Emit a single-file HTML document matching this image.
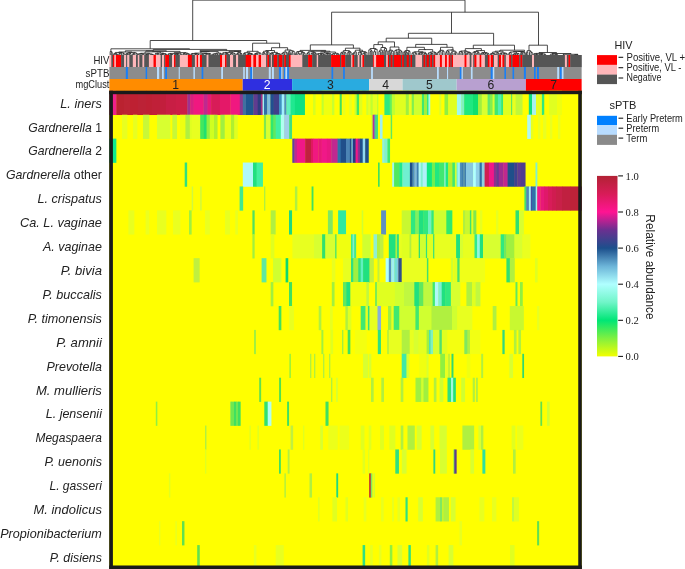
<!DOCTYPE html><html><head><meta charset='utf-8'><title>heatmap</title><style>html,body{margin:0;padding:0;background:#fff;}svg{display:block;}text{font-family:'Liberation Sans',sans-serif;fill:#222;}</style></head><body><svg width='685' height='569' viewBox='0 0 685 569'><rect width='685' height='569' fill='#fff'/><defs><clipPath id='hc'><rect x='109.2' y='0' width='472.6' height='569'/></clipPath></defs><path d='M192.7 0.15H465M192.7 0.15V40.5M465 0.15V12.2M331.6 12.2H538.5M331.6 12.2V44.9M451.5 12.2V33.3M538.5 12.2V45.2M150.2 40.5H266.7M150.2 40.5V48.8M266.7 40.5V43.2M110.9 48.8H189.5M110.17 52.09V55M111.28 53.36V55M112.31 53.23V55M111.28 52.67V53.36M112.31 52.67V53.23M111.28 52.67H112.31M110.17 51.5V52.09M111.8 51.5V52.67M110.17 51.5H111.8M110.9 51.5H110.99M110.9 48.8V51.5M189.5 48.8V49.4M153.3 49.4H226.7M153.3 49.4V50.2M113.57 54.22V55M114.65 54.42V55M113.57 53.95V54.22M114.65 53.95V54.42M113.57 53.95H114.65M115.69 54.47V55M116.64 54.42V55M117.8 54.46V55M116.64 54.31V54.42M117.8 54.31V54.46M116.64 54.31H117.8M115.69 54.12V54.47M117.22 54.12V54.31M115.69 54.12H117.22M114.11 53.44V53.95M116.46 53.44V54.12M114.11 53.44H116.46M118.89 53.85V55M119.98 53.91V55M118.89 53.66V53.85M119.98 53.66V53.91M118.89 53.66H119.98M121.58 53.77V55M119.43 53.23V53.66M121.58 53.23V53.77M119.43 53.23H121.58M123.12 53.91V55M124.28 53.85V55M123.12 53.52V53.91M124.28 53.52V53.85M123.12 53.52H124.28M120.51 52.85V53.23M123.7 52.85V53.52M120.51 52.85H123.7M115.28 52.44V53.44M122.1 52.44V52.85M115.28 52.44H122.1M125.46 54.33V55M126.61 54.53V55M125.46 54.15V54.33M126.61 54.15V54.53M125.46 54.15H126.61M127.43 54.47V55M128.44 54.55V55M127.43 54.29V54.47M128.44 54.29V54.55M127.43 54.29H128.44M126.03 53.79V54.15M127.94 53.79V54.29M126.03 53.79H127.94M129.59 53.93V55M130.93 53.71V55M129.59 53.51V53.93M130.93 53.51V53.71M129.59 53.51H130.93M126.98 53.14V53.79M130.26 53.14V53.51M126.98 53.14H130.26M132.39 54.33V55M133.51 54.29V55M132.39 54.03V54.33M133.51 54.03V54.29M132.39 54.03H133.51M134.64 54.19V55M132.95 53.75V54.03M134.64 53.75V54.19M132.95 53.75H134.64M136.09 54.22V55M137.41 54.01V55M136.09 53.63V54.22M137.41 53.63V54.01M136.09 53.63H137.41M133.8 53.01V53.75M136.75 53.01V53.63M133.8 53.01H136.75M128.62 52.46V53.14M135.27 52.46V53.01M128.62 52.46H135.27M118.69 52.01V52.44M131.95 52.01V52.46M118.69 52.01H131.95M138.25 54.18V55M139.31 54.41V55M138.25 54.05V54.18M139.31 54.05V54.41M138.25 54.05H139.31M140.82 54.14V55M142.64 54.31V55M144.17 54.41V55M142.64 54.19V54.31M144.17 54.19V54.41M142.64 54.19H144.17M140.82 53.93V54.14M143.4 53.93V54.19M140.82 53.93H143.4M138.78 53.7V54.05M142.11 53.7V53.93M138.78 53.7H142.11M145.42 54.69V55M147.04 54.7V55M145.42 54.47V54.69M147.04 54.47V54.7M145.42 54.47H147.04M148.83 54.5V55M146.23 54.33V54.47M148.83 54.33V54.5M146.23 54.33H148.83M150.56 54.43V55M151.98 54.6V55M153.46 54.62V55M151.98 54.44V54.6M153.46 54.44V54.62M151.98 54.44H153.46M150.56 54.3V54.43M152.72 54.3V54.44M150.56 54.3H152.72M147.53 53.86V54.33M151.64 53.86V54.3M147.53 53.86H151.64M140.45 53.27V53.7M149.59 53.27V53.86M140.45 53.27H149.59M155.04 54.18V55M156.22 54.21V55M155.04 53.84V54.18M156.22 53.84V54.21M155.04 53.84H156.22M157.55 54.18V55M159 54.45V55M157.55 54.05V54.18M159 54.05V54.45M157.55 54.05H159M155.63 53.32V53.84M158.28 53.32V54.05M155.63 53.32H158.28M160.23 54.46V55M161.31 54.46V55M160.23 54.37V54.46M161.31 54.37V54.46M160.23 54.37H161.31M162.29 54.41V55M163.57 54.46V55M162.29 54.29V54.41M163.57 54.29V54.46M162.29 54.29H163.57M160.77 54.16V54.37M162.93 54.16V54.29M160.77 54.16H162.93M164.85 54.23V55M165.67 54.45V55M166.69 54.37V55M165.67 54.28V54.45M166.69 54.28V54.37M165.67 54.28H166.69M164.85 54.13V54.23M166.18 54.13V54.28M164.85 54.13H166.18M161.85 53.58V54.16M165.51 53.58V54.13M161.85 53.58H165.51M156.95 53.09V53.32M163.68 53.09V53.58M156.95 53.09H163.68M145.02 51.87V53.27M160.32 51.87V53.09M145.02 51.87H160.32M167.87 54.47V55M168.89 54.37V55M167.87 54.27V54.47M168.89 54.27V54.37M167.87 54.27H168.89M170.08 54.48V55M171.53 54.56V55M172.79 54.53V55M171.53 54.46V54.56M172.79 54.46V54.53M171.53 54.46H172.79M170.08 54.32V54.48M172.16 54.32V54.46M170.08 54.32H172.16M168.38 53.77V54.27M171.12 53.77V54.32M168.38 53.77H171.12M174.33 54.56V55M175.88 54.51V55M174.33 54.25V54.56M175.88 54.25V54.51M174.33 54.25H175.88M176.95 54.54V55M178.39 54.5V55M176.95 54.39V54.54M178.39 54.39V54.5M176.95 54.39H178.39M175.11 54.14V54.25M177.67 54.14V54.39M175.11 54.14H177.67M180.11 54.29V55M181.52 54.37V55M180.11 53.99V54.29M181.52 53.99V54.37M180.11 53.99H181.52M176.39 53.78V54.14M180.82 53.78V53.99M176.39 53.78H180.82M169.75 53.4V53.77M178.6 53.4V53.78M169.75 53.4H178.6M182.82 54.4V55M184.01 54.24V55M182.82 54.05V54.4M184.01 54.05V54.24M182.82 54.05H184.01M184.97 54.03V55M183.41 53.42V54.05M184.97 53.42V54.03M183.41 53.42H184.97M185.85 54.28V55M186.99 54.27V55M185.85 54.08V54.28M186.99 54.08V54.27M185.85 54.08H186.99M188.42 54.41V55M189.53 54.23V55M188.42 53.95V54.41M189.53 53.95V54.23M188.42 53.95H189.53M186.42 53.8V54.08M188.98 53.8V53.95M186.42 53.8H188.98M184.19 53.04V53.42M187.7 53.04V53.8M184.19 53.04H187.7M174.18 52.64V53.4M185.95 52.64V53.04M174.18 52.64H185.95M152.67 51.36V51.87M180.06 51.36V52.64M152.67 51.36H180.06M125.32 50.8V52.01M166.36 50.8V51.36M125.32 50.8H166.36M145.84 50.8H153.3M153.3 50.2V50.8M226.7 49.4V50.6M200 50.6H241M190.68 54.54V55M191.88 54.37V55M190.68 54.26V54.54M191.88 54.26V54.37M190.68 54.26H191.88M193.03 54.11V55M191.28 53.76V54.26M193.03 53.76V54.11M191.28 53.76H193.03M194.66 54.57V55M196.35 54.51V55M194.66 54.41V54.57M196.35 54.41V54.51M194.66 54.41H196.35M197.82 54.51V55M199.13 54.61V55M197.82 54.36V54.51M199.13 54.36V54.61M197.82 54.36H199.13M195.5 53.98V54.41M198.48 53.98V54.36M195.5 53.98H198.48M192.15 53.48V53.76M196.99 53.48V53.98M192.15 53.48H196.99M200.61 54.4V55M203.41 54.58V55M200.61 54.27V54.4M203.41 54.27V54.58M200.61 54.27H203.41M206.04 54.22V55M207.37 54.43V55M206.04 54.06V54.22M207.37 54.06V54.43M206.04 54.06H207.37M202.01 53.86V54.27M206.71 53.86V54.06M202.01 53.86H206.71M208.54 54.37V55M209.83 54.34V55M208.54 54.25V54.37M209.83 54.25V54.34M208.54 54.25H209.83M211.02 54.13V55M209.18 53.87V54.25M211.02 53.87V54.13M209.18 53.87H211.02M204.36 53.48V53.86M210.1 53.48V53.87M204.36 53.48H210.1M194.57 53.12V53.48M207.23 53.12V53.48M194.57 53.12H207.23M212.23 54.39V55M213.75 54.48V55M212.23 54.24V54.39M213.75 54.24V54.48M212.23 54.24H213.75M215.53 54.25V55M212.99 54.06V54.24M215.53 54.06V54.25M212.99 54.06H215.53M216.89 54.44V55M218.06 54.37V55M216.89 54.24V54.44M218.06 54.24V54.37M216.89 54.24H218.06M214.26 53.72V54.06M217.47 53.72V54.24M214.26 53.72H217.47M219.33 54.4V55M220.41 54.23V55M219.33 53.96V54.4M220.41 53.96V54.23M219.33 53.96H220.41M221.46 54.01V55M219.87 53.64V53.96M221.46 53.64V54.01M219.87 53.64H221.46M215.87 53.08V53.72M220.66 53.08V53.64M215.87 53.08H220.66M200.9 51.6V53.12M218.26 51.6V53.08M200.9 51.6H218.26M200 51.6H209.58M200 50.6V51.6M222.48 53.57V55M223.8 53.73V55M222.48 53.03V53.57M223.8 53.03V53.73M222.48 53.03H223.8M225.23 54.34V55M226.38 54.1V55M225.23 53.93V54.34M226.38 53.93V54.1M225.23 53.93H226.38M227.48 54.22V55M228.53 54.23V55M227.48 54.02V54.22M228.53 54.02V54.23M227.48 54.02H228.53M225.8 53.61V53.93M228.01 53.61V54.02M225.8 53.61H228.01M223.14 52.75V53.03M226.91 52.75V53.61M223.14 52.75H226.91M229.71 54.44V55M230.96 54.45V55M229.71 54.22V54.44M230.96 54.22V54.45M229.71 54.22H230.96M232.34 54.01V55M230.34 53.65V54.22M232.34 53.65V54.01M230.34 53.65H232.34M233.92 54.04V55M235.25 54.08V55M233.92 53.69V54.04M235.25 53.69V54.08M233.92 53.69H235.25M231.34 53.11V53.65M234.59 53.11V53.69M231.34 53.11H234.59M225.02 52.43V52.75M232.96 52.43V53.11M225.02 52.43H232.96M236.39 54.53V55M237.49 54.5V55M236.39 54.18V54.53M237.49 54.18V54.5M236.39 54.18H237.49M238.6 53.85V55M236.94 53.56V54.18M238.6 53.56V53.85M236.94 53.56H238.6M239.82 53.62V55M240.81 54.03V55M241.94 53.97V55M240.81 53.79V54.03M241.94 53.79V53.97M240.81 53.79H241.94M239.82 53.35V53.62M241.38 53.35V53.79M239.82 53.35H241.38M237.77 52.46V53.56M240.6 52.46V53.35M237.77 52.46H240.6M228.99 51.4V52.43M239.18 51.4V52.46M228.99 51.4H239.18M234.09 51.4H241M241 50.6V51.4M252.6 43.2H279.6M243.41 54.13V55M244.61 54.53V55M245.88 54.38V55M244.61 54.17V54.53M245.88 54.17V54.38M244.61 54.17H245.88M243.41 53.52V54.13M245.25 53.52V54.17M243.41 53.52H245.25M247.3 54.38V55M248.41 54.51V55M249.51 54.54V55M248.41 54.4V54.51M249.51 54.4V54.54M248.41 54.4H249.51M247.3 54.16V54.38M248.96 54.16V54.4M247.3 54.16H248.96M250.62 54.3V55M251.66 54.38V55M250.62 54.2V54.3M251.66 54.2V54.38M250.62 54.2H251.66M252.93 54.36V55M251.14 54.08V54.2M252.93 54.08V54.36M251.14 54.08H252.93M248.13 53.48V54.16M252.04 53.48V54.08M248.13 53.48H252.04M244.33 52.7V53.52M250.08 52.7V53.48M244.33 52.7H250.08M254.2 54.25V55M255.39 54.35V55M256.43 54.31V55M255.39 54.17V54.35M256.43 54.17V54.31M255.39 54.17H256.43M254.2 54.05V54.25M255.91 54.05V54.17M254.2 54.05H255.91M257.54 54.14V55M255.06 53.46V54.05M257.54 53.46V54.14M255.06 53.46H257.54M259.12 53.93V55M261 53.87V55M259.12 53.14V53.93M261 53.14V53.87M259.12 53.14H261M256.3 52.84V53.46M260.06 52.84V53.14M256.3 52.84H260.06M247.2 51.3V52.7M258.18 51.3V52.84M247.2 51.3H258.18M252.6 51.3H252.69M252.6 43.2V51.3M279.6 43.2V47.7M271.5 47.7H287.6M262.65 53.42V55M263.76 53.98V55M265.13 53.8V55M263.76 53.21V53.98M265.13 53.21V53.8M263.76 53.21H265.13M262.65 52.57V53.42M264.44 52.57V53.21M262.65 52.57H264.44M266.42 53.39V55M267.54 53.02V55M266.42 52.29V53.39M267.54 52.29V53.02M266.42 52.29H267.54M268.98 53.1V55M266.98 51.82V52.29M268.98 51.82V53.1M266.98 51.82H268.98M263.55 51.26V52.57M267.98 51.26V51.82M263.55 51.26H267.98M270.06 53.72V55M271.07 53.75V55M270.06 53.48V53.72M271.07 53.48V53.75M270.06 53.48H271.07M272.14 53.96V55M273.61 54.01V55M272.14 53.72V53.96M273.61 53.72V54.01M272.14 53.72H273.61M270.57 53.19V53.48M272.88 53.19V53.72M270.57 53.19H272.88M275.28 54.23V55M276.63 54.28V55M275.28 54.06V54.23M276.63 54.06V54.28M275.28 54.06H276.63M277.87 54.07V55M279.2 54.29V55M280.48 54.16V55M279.2 53.98V54.29M280.48 53.98V54.16M279.2 53.98H280.48M277.87 53.83V54.07M279.84 53.83V53.98M277.87 53.83H279.84M275.95 53.51V54.06M278.85 53.51V53.83M275.95 53.51H278.85M271.72 52.4V53.19M277.4 52.4V53.51M271.72 52.4H277.4M265.76 50.5V51.26M274.56 50.5V52.4M265.76 50.5H274.56M270.16 50.5H271.5M271.5 47.7V50.5M281.78 54.12V55M283.15 53.79V55M281.78 53.42V54.12M283.15 53.42V53.79M281.78 53.42H283.15M284.52 53.5V55M282.47 52.89V53.42M284.52 52.89V53.5M282.47 52.89H284.52M286.11 53.68V55M287.39 53.63V55M286.11 52.95V53.68M287.39 52.95V53.63M286.11 52.95H287.39M283.49 52.14V52.89M286.75 52.14V52.95M283.49 52.14H286.75M288.44 52.23V55M289.45 53.3V55M290.52 53.25V55M289.45 52.95V53.3M290.52 52.95V53.25M289.45 52.95H290.52M288.44 51.77V52.23M289.98 51.77V52.95M288.44 51.77H289.98M291.66 53.27V55M292.88 53.31V55M291.66 52.84V53.27M292.88 52.84V53.31M291.66 52.84H292.88M294.3 52.6V55M292.27 51.36V52.84M294.3 51.36V52.6M292.27 51.36H294.3M289.21 50.78V51.77M293.29 50.78V51.36M289.21 50.78H293.29M285.12 50V52.14M291.25 50V50.78M285.12 50H291.25M287.6 50H288.19M287.6 47.7V50M310.3 44.9H353.4M310.3 44.9V50.4M300 50.4H325.7M295.56 53.7V55M296.64 54.08V55M295.56 53.37V53.7M296.64 53.37V54.08M295.56 53.37H296.64M297.83 53.76V55M299.41 53.57V55M297.83 53.38V53.76M299.41 53.38V53.57M297.83 53.38H299.41M296.1 52.1V53.37M298.62 52.1V53.38M296.1 52.1H298.62M300.81 53.68V55M302.1 53.37V55M300.81 53.14V53.68M302.1 53.14V53.37M300.81 53.14H302.1M303.52 53.44V55M305.08 53.63V55M303.52 53.17V53.44M305.08 53.17V53.63M303.52 53.17H305.08M301.45 52.43V53.14M304.3 52.43V53.17M301.45 52.43H304.3M297.36 51.5V52.1M302.88 51.5V52.43M297.36 51.5H302.88M300 51.5H300.12M300 50.4V51.5M306.83 53.87V55M308.1 53.83V55M306.83 53.49V53.87M308.1 53.49V53.83M306.83 53.49H308.1M309.39 53.53V55M307.46 52.72V53.49M309.39 52.72V53.53M307.46 52.72H309.39M311.06 53.87V55M312.33 53.93V55M311.06 53.32V53.87M312.33 53.32V53.93M311.06 53.32H312.33M313.39 54.02V55M314.39 54.17V55M313.39 53.83V54.02M314.39 53.83V54.17M313.39 53.83H314.39M311.69 53.06V53.32M313.89 53.06V53.83M311.69 53.06H313.89M315.27 54.09V55M316.27 54.08V55M315.27 53.5V54.09M316.27 53.5V54.08M315.27 53.5H316.27M312.79 52.66V53.06M315.77 52.66V53.5M312.79 52.66H315.77M308.42 51.68V52.72M314.28 51.68V52.66M308.42 51.68H314.28M317.22 54.33V55M318.53 54.23V55M317.22 53.89V54.33M318.53 53.89V54.23M317.22 53.89H318.53M320.18 54.4V55M321.77 54.58V55M320.18 54.32V54.4M321.77 54.32V54.58M320.18 54.32H321.77M323.35 54.53V55M324.64 54.53V55M323.35 54.34V54.53M324.64 54.34V54.53M323.35 54.34H324.64M320.97 53.99V54.32M324 53.99V54.34M320.97 53.99H324M317.87 53.67V53.89M322.49 53.67V53.99M317.87 53.67H322.49M325.87 53.8V55M327.2 54.1V55M328.26 54.29V55M327.2 53.89V54.1M328.26 53.89V54.29M327.2 53.89H328.26M325.87 53.59V53.8M327.73 53.59V53.89M325.87 53.59H327.73M329.63 54.25V55M330.99 54.21V55M329.63 53.96V54.25M330.99 53.96V54.21M329.63 53.96H330.99M326.8 53.36V53.59M330.31 53.36V53.96M326.8 53.36H330.31M320.18 52.96V53.67M328.56 52.96V53.36M320.18 52.96H328.56M331.83 54.4V55M332.98 54.52V55M331.83 54.24V54.4M332.98 54.24V54.52M331.83 54.24H332.98M334.68 54.03V55M332.41 53.87V54.24M334.68 53.87V54.03M332.41 53.87H334.68M336.56 54.25V55M337.89 54.25V55M339.15 54.37V55M337.89 54.05V54.25M339.15 54.05V54.37M337.89 54.05H339.15M336.56 53.91V54.25M338.52 53.91V54.05M336.56 53.91H338.52M333.54 53.27V53.87M337.54 53.27V53.91M333.54 53.27H337.54M324.37 52.04V52.96M335.54 52.04V53.27M324.37 52.04H335.54M311.35 51.2V51.68M329.95 51.2V52.04M311.35 51.2H329.95M320.65 51.2H325.7M325.7 50.4V51.2M353.4 44.9V48.2M345.4 48.2H360M340.61 53.77V55M342.01 54.02V55M343.15 53.5V55M342.01 53.29V54.02M343.15 53.29V53.5M342.01 53.29H343.15M340.61 52.9V53.77M342.58 52.9V53.29M340.61 52.9H342.58M344.33 53.72V55M346.04 53.82V55M344.33 52.9V53.72M346.04 52.9V53.82M344.33 52.9H346.04M341.6 52.11V52.9M345.19 52.11V52.9M341.6 52.11H345.19M347.75 52.79V55M348.97 53.12V55M347.75 52.27V52.79M348.97 52.27V53.12M347.75 52.27H348.97M349.83 53.02V55M351.15 53.42V55M349.83 52.2V53.02M351.15 52.2V53.42M349.83 52.2H351.15M348.36 51.55V52.27M350.49 51.55V52.2M348.36 51.55H350.49M343.39 50.6V52.11M349.42 50.6V51.55M343.39 50.6H349.42M345.4 50.6H346.41M345.4 48.2V50.6M352.37 54.02V55M353.59 54V55M352.37 53.64V54.02M353.59 53.64V54M352.37 53.64H353.59M355.07 53.35V55M352.98 53.11V53.64M355.07 53.11V53.35M352.98 53.11H355.07M356.67 52.65V55M354.02 52.08V53.11M356.67 52.08V52.65M354.02 52.08H356.67M358.58 53.28V55M360.26 53.49V55M361.51 52.89V55M360.26 52.49V53.49M361.51 52.49V52.89M360.26 52.49H361.51M358.58 52.15V53.28M360.88 52.15V52.49M358.58 52.15H360.88M362.84 53.72V55M364.5 54.13V55M365.67 54.04V55M364.5 53.73V54.13M365.67 53.73V54.04M364.5 53.73H365.67M362.84 53.31V53.72M365.08 53.31V53.73M362.84 53.31H365.08M367.01 53.47V55M363.96 52.38V53.31M367.01 52.38V53.47M363.96 52.38H367.01M359.73 51.58V52.15M365.49 51.58V52.38M359.73 51.58H365.49M355.35 50.2V52.08M362.61 50.2V51.58M355.35 50.2H362.61M358.98 50.2H360M360 48.2V50.2M408.4 33.3H493.6M408.4 33.3V38.2M386.2 38.2H431.7M386.2 38.2V41.9M378.2 41.9H394.5M378.2 41.9V44.6M373.8 44.6H382.6M368.8 51.9V55M370.13 52.37V55M371.18 52.57V55M370.13 51.78V52.37M371.18 51.78V52.57M370.13 51.78H371.18M372.21 51.81V55M370.66 50.97V51.78M372.21 50.97V51.81M370.66 50.97H372.21M368.8 49.87V51.9M371.43 49.87V50.97M368.8 49.87H371.43M373.71 53.09V55M375.51 53.12V55M373.71 51.7V53.09M375.51 51.7V53.12M373.71 51.7H375.51M377.16 51.56V55M374.61 49.38V51.7M377.16 49.38V51.56M374.61 49.38H377.16M370.12 48.5V49.87M375.89 48.5V49.38M370.12 48.5H375.89M373 48.5H373.8M373.8 44.6V48.5M378.86 52.23V55M380.4 51.96V55M378.86 51.48V52.23M380.4 51.48V51.96M378.86 51.48H380.4M381.79 52.45V55M382.85 52.8V55M381.79 51.96V52.45M382.85 51.96V52.8M381.79 51.96H382.85M379.63 50.18V51.48M382.32 50.18V51.96M379.63 50.18H382.32M383.92 50.98V55M384.97 51.64V55M383.92 49.94V50.98M384.97 49.94V51.64M383.92 49.94H384.97M385.87 52.13V55M387.22 51.91V55M385.87 50.88V52.13M387.22 50.88V51.91M385.87 50.88H387.22M384.45 48.52V49.94M386.54 48.52V50.88M384.45 48.52H386.54M380.97 47.5V50.18M385.49 47.5V48.52M380.97 47.5H385.49M382.6 47.5H383.23M382.6 44.6V47.5M394.5 41.9V47M390.1 47H398.9M388.73 52.16V55M389.83 51.8V55M388.73 51.03V52.16M389.83 51.03V51.8M388.73 51.03H389.83M390.65 53.25V55M391.91 53.18V55M390.65 52.85V53.25M391.91 52.85V53.18M390.65 52.85H391.91M393.36 52.15V55M391.28 51.11V52.85M393.36 51.11V52.15M391.28 51.11H393.36M389.28 50.2V51.03M392.32 50.2V51.11M389.28 50.2H392.32M390.1 50.2H390.8M390.1 47V50.2M394.79 51.94V55M396.29 53.07V55M397.46 53.07V55M396.29 52.4V53.07M397.46 52.4V53.07M396.29 52.4H397.46M394.79 50.58V51.94M396.88 50.58V52.4M394.79 50.58H396.88M398.35 52.52V55M399.64 53.24V55M398.35 51.85V52.52M399.64 51.85V53.24M398.35 51.85H399.64M400.95 52.71V55M402.19 52.85V55M400.95 51.8V52.71M402.19 51.8V52.85M400.95 51.8H402.19M399 50.83V51.85M401.57 50.83V51.8M399 50.83H401.57M395.83 49.8V50.58M400.28 49.8V50.83M395.83 49.8H400.28M398.06 49.8H398.9M398.9 47V49.8M431.7 38.2V44.4M415.7 44.4H447M415.7 44.4V47.3M406.9 47.3H424.4M403.7 53.37V55M404.73 53.39V55M403.7 52.28V53.37M404.73 52.28V53.39M403.7 52.28H404.73M405.54 52.68V55M406.72 53.75V55M407.8 53.82V55M406.72 53.28V53.75M407.8 53.28V53.82M406.72 53.28H407.8M405.54 52.33V52.68M407.26 52.33V53.28M405.54 52.33H407.26M404.22 51.36V52.28M406.4 51.36V52.33M404.22 51.36H406.4M408.59 52.33V55M410.01 52.96V55M408.59 51.44V52.33M410.01 51.44V52.96M408.59 51.44H410.01M405.31 50.5V51.36M409.3 50.5V51.44M405.31 50.5H409.3M406.9 50.5H407.3M406.9 47.3V50.5M411.98 53.81V55M413.65 53.88V55M411.98 53.22V53.81M413.65 53.22V53.88M411.98 53.22H413.65M415.11 53.92V55M416.71 53.66V55M415.11 53.45V53.92M416.71 53.45V53.66M415.11 53.45H416.71M412.81 52.28V53.22M415.91 52.28V53.45M412.81 52.28H415.91M418.22 53.88V55M419.24 54.07V55M420.25 54.23V55M419.24 53.91V54.07M420.25 53.91V54.23M419.24 53.91H420.25M418.22 53.32V53.88M419.75 53.32V53.91M418.22 53.32H419.75M421.62 53.65V55M422.95 53.55V55M421.62 53.2V53.65M422.95 53.2V53.55M421.62 53.2H422.95M418.98 52.85V53.32M422.29 52.85V53.2M418.98 52.85H422.29M424.08 54.24V55M425.1 54.1V55M424.08 53.65V54.24M425.1 53.65V54.1M424.08 53.65H425.1M426.51 53.8V55M424.59 53.46V53.65M426.51 53.46V53.8M424.59 53.46H426.51M420.64 52.32V52.85M425.55 52.32V53.46M420.64 52.32H425.55M414.36 51.77V52.28M423.09 51.77V52.32M414.36 51.77H423.09M427.92 53.93V55M429.17 54.12V55M427.92 53.77V53.93M429.17 53.77V54.12M427.92 53.77H429.17M430.5 54.4V55M431.58 54.16V55M430.5 53.95V54.4M431.58 53.95V54.16M430.5 53.95H431.58M432.86 53.88V55M431.04 53.59V53.95M432.86 53.59V53.88M431.04 53.59H432.86M428.54 52.82V53.77M431.95 52.82V53.59M428.54 52.82H431.95M434.19 53.14V55M435.37 53.54V55M436.51 53.89V55M435.37 53.2V53.54M436.51 53.2V53.89M435.37 53.2H436.51M434.19 52.58V53.14M435.94 52.58V53.2M434.19 52.58H435.94M430.25 51.98V52.82M435.07 51.98V52.58M430.25 51.98H435.07M418.73 49.6V51.77M432.66 49.6V51.98M418.73 49.6H432.66M424.4 49.6H425.69M424.4 47.3V49.6M447 44.4V47.3M440.5 47.3H452.9M437.64 52.9V55M439.28 53.36V55M437.64 52.39V52.9M439.28 52.39V53.36M437.64 52.39H439.28M441.02 52.96V55M438.46 51.65V52.39M441.02 51.65V52.96M438.46 51.65H441.02M442.44 52.84V55M444.06 52.27V55M442.44 51.18V52.84M444.06 51.18V52.27M442.44 51.18H444.06M439.74 50.3V51.65M443.25 50.3V51.18M439.74 50.3H443.25M440.5 50.3H441.5M440.5 47.3V50.3M445.63 53.15V55M447.01 53.72V55M445.63 52.71V53.15M447.01 52.71V53.72M445.63 52.71H447.01M448.14 52.11V55M449.19 52.12V55M448.14 51.65V52.11M449.19 51.65V52.12M448.14 51.65H449.19M446.32 50.97V52.71M448.67 50.97V51.65M446.32 50.97H448.67M450.35 54.02V55M451.45 54.32V55M450.35 53.81V54.02M451.45 53.81V54.32M450.35 53.81H451.45M452.83 53.76V55M450.9 52.83V53.81M452.83 52.83V53.76M450.9 52.83H452.83M454.19 53.56V55M455.51 53.54V55M454.19 53.1V53.56M455.51 53.1V53.54M454.19 53.1H455.51M457.11 53.56V55M454.85 52.82V53.1M457.11 52.82V53.56M454.85 52.82H457.11M451.87 51.29V52.83M455.98 51.29V52.82M451.87 51.29H455.98M447.49 50V50.97M453.92 50V51.29M447.49 50H453.92M450.71 50H452.9M452.9 47.3V50M493.6 33.3V45.2M473.3 45.2H514.5M473.3 45.2V48.6M465.3 48.6H481.4M458.78 53.39V55M459.91 53.49V55M458.78 53.01V53.39M459.91 53.01V53.49M458.78 53.01H459.91M461.17 53.2V55M462.61 52.82V55M461.17 52.05V53.2M462.61 52.05V52.82M461.17 52.05H462.61M459.34 51.48V53.01M461.89 51.48V52.05M459.34 51.48H461.89M464.09 53.14V55M465.51 53.27V55M464.09 52.72V53.14M465.51 52.72V53.27M464.09 52.72H465.51M466.37 53.88V55M467.61 54.25V55M466.37 53.7V53.88M467.61 53.7V54.25M466.37 53.7H467.61M469.2 53.2V55M466.99 52.92V53.7M469.2 52.92V53.2M466.99 52.92H469.2M470.36 53.88V55M471.39 53.96V55M470.36 53.22V53.88M471.39 53.22V53.96M470.36 53.22H471.39M468.09 52.61V52.92M470.87 52.61V53.22M468.09 52.61H470.87M464.8 51.85V52.72M469.48 51.85V52.61M464.8 51.85H469.48M460.62 51V51.48M467.14 51V51.85M460.62 51H467.14M463.88 51H465.3M465.3 48.6V51M472.91 52.82V55M474.57 53.6V55M475.8 53.37V55M474.57 52.58V53.6M475.8 52.58V53.37M474.57 52.58H475.8M472.91 52.24V52.82M475.18 52.24V52.58M472.91 52.24H475.18M476.88 53.9V55M478.08 53.9V55M476.88 53.05V53.9M478.08 53.05V53.9M476.88 53.05H478.08M479.27 53.2V55M477.48 52.76V53.05M479.27 52.76V53.2M477.48 52.76H479.27M474.05 51.52V52.24M478.37 51.52V52.76M474.05 51.52H478.37M480.55 54.28V55M481.7 54.31V55M480.55 53.87V54.28M481.7 53.87V54.31M480.55 53.87H481.7M482.85 53.9V55M484.01 53.75V55M482.85 53.38V53.9M484.01 53.38V53.75M482.85 53.38H484.01M481.13 53.02V53.87M483.43 53.02V53.38M481.13 53.02H483.43M484.85 53.86V55M486.04 54.12V55M484.85 53.61V53.86M486.04 53.61V54.12M484.85 53.61H486.04M487.46 54.02V55M489.05 54.01V55M487.46 53.86V54.02M489.05 53.86V54.01M487.46 53.86H489.05M485.45 53.17V53.61M488.25 53.17V53.86M485.45 53.17H488.25M482.28 52.52V53.02M486.85 52.52V53.17M482.28 52.52H486.85M476.21 50.6V51.52M484.56 50.6V52.52M476.21 50.6H484.56M480.39 50.6H481.4M481.4 48.6V50.6M514.5 45.2V50.2M500 50.2H524.5M490.6 53.99V55M491.62 53.89V55M490.6 53.62V53.99M491.62 53.62V53.89M490.6 53.62H491.62M493 54.21V55M494.6 54.54V55M495.69 54.49V55M494.6 54.23V54.54M495.69 54.23V54.49M494.6 54.23H495.69M493 53.84V54.21M495.15 53.84V54.23M493 53.84H495.15M491.11 53.37V53.62M494.07 53.37V53.84M491.11 53.37H494.07M496.69 53.6V55M497.82 53.62V55M498.88 53.84V55M497.82 53.18V53.62M498.88 53.18V53.84M497.82 53.18H498.88M496.69 52.67V53.6M498.35 52.67V53.18M496.69 52.67H498.35M492.59 52.06V53.37M497.52 52.06V52.67M492.59 52.06H497.52M499.97 54.01V55M501.01 54.13V55M502.06 54.36V55M501.01 53.84V54.13M502.06 53.84V54.36M501.01 53.84H502.06M499.97 53.31V54.01M501.53 53.31V53.84M499.97 53.31H501.53M503.41 54.25V55M504.75 53.85V55M503.41 53.64V54.25M504.75 53.64V53.85M503.41 53.64H504.75M505.99 54.37V55M507.32 54.38V55M505.99 53.96V54.37M507.32 53.96V54.38M505.99 53.96H507.32M504.08 53.31V53.64M506.66 53.31V53.96M504.08 53.31H506.66M500.75 52.89V53.31M505.37 52.89V53.31M500.75 52.89H505.37M495.06 51.2V52.06M503.06 51.2V52.89M495.06 51.2H503.06M499.06 51.2H500M500 50.2V51.2M508.72 53.96V55M509.83 53.87V55M508.72 53.58V53.96M509.83 53.58V53.87M508.72 53.58H509.83M511.19 53.12V55M509.27 52.52V53.58M511.19 52.52V53.12M509.27 52.52H511.19M512.74 54.46V55M514.03 54.47V55M512.74 54.35V54.46M514.03 54.35V54.47M512.74 54.35H514.03M515.18 54.47V55M516.28 54.48V55M515.18 54.22V54.47M516.28 54.22V54.48M515.18 54.22H516.28M513.39 54.04V54.35M515.73 54.04V54.22M513.39 54.04H515.73M517.52 53.74V55M519.04 53.89V55M517.52 53.57V53.74M519.04 53.57V53.89M517.52 53.57H519.04M514.56 53.3V54.04M518.28 53.3V53.57M514.56 53.3H518.28M510.23 51.97V52.52M516.42 51.97V53.3M510.23 51.97H516.42M520.64 53.61V55M521.64 53.67V55M522.7 53.82V55M521.64 53.43V53.67M522.7 53.43V53.82M521.64 53.43H522.7M520.64 52.76V53.61M522.17 52.76V53.43M520.64 52.76H522.17M524.09 53.58V55M525.38 53.19V55M524.09 52.87V53.58M525.38 52.87V53.19M524.09 52.87H525.38M521.41 52.26V52.76M524.74 52.26V52.87M521.41 52.26H524.74M513.33 51.5V51.97M523.07 51.5V52.26M513.33 51.5H523.07M518.2 51.5H524.5M524.5 50.2V51.5M529 45.2H547.4M526.53 52.82V55M527.81 53.42V55M526.53 52.2V52.82M527.81 52.2V53.42M526.53 52.2H527.81M529.5 52.78V55M531.04 53.55V55M532.32 53.65V55M531.04 52.56V53.55M532.32 52.56V53.65M531.04 52.56H532.32M529.5 51.8V52.78M531.68 51.8V52.56M529.5 51.8H531.68M527.17 50.7V52.2M530.59 50.7V51.8M527.17 50.7H530.59M528.88 50.7H529M529 45.2V50.7M547.4 45.2V52.5M539 52.5H556.6M533.52 54.3V55M534.62 54.15V55M533.52 53.86V54.3M534.62 53.86V54.15M533.52 53.86H534.62M535.57 54.61V55M536.74 54.63V55M535.57 54.45V54.61M536.74 54.45V54.63M535.57 54.45H536.74M538.17 54.37V55M536.15 54.24V54.45M538.17 54.24V54.37M536.15 54.24H538.17M534.07 53.7V53.86M537.16 53.7V54.24M534.07 53.7H537.16M539.24 54.56V55M540.31 54.64V55M539.24 54.38V54.56M540.31 54.38V54.64M539.24 54.38H540.31M541.39 54.48V55M542.71 54.55V55M541.39 54.28V54.48M542.71 54.28V54.55M541.39 54.28H542.71M539.77 54.13V54.38M542.05 54.13V54.28M539.77 54.13H542.05M544.41 54.44V55M545.62 54.42V55M544.41 54.31V54.44M545.62 54.31V54.42M544.41 54.31H545.62M540.91 53.98V54.13M545.01 53.98V54.31M540.91 53.98H545.01M535.62 53.4V53.7M542.96 53.4V53.98M535.62 53.4H542.96M539 53.4H539.29M539 52.5V53.4M556.6 52.5V53.5M552 53.5H571M550.4 54.55V55M555.48 54.67V55M557.58 54.57V55M555.48 54.42V54.67M557.58 54.42V54.57M555.48 54.42H557.58M550.4 54.2V54.55M556.53 54.2V54.42M550.4 54.2H556.53M552 54.2H553.46M552 53.5V54.2M571 53.5V54.3M563 54.3H578M563.5 54.6V55M563 54.6H563.5M563 54.3V54.6M574.75 54.6V55M574.75 54.6H578M578 54.3V54.6' fill='none' stroke='#2a2a2a' stroke-width='0.85'/><g clip-path='url(#hc)'><rect x='109.2' y='55' width='2.45' height='12.2' fill='#ffb6b9'/><rect x='111.3' y='55' width='1.95' height='12.2' fill='#555555'/><rect x='112.9' y='55' width='1.85' height='12.2' fill='#ff0000'/><rect x='114.4' y='55' width='1.85' height='12.2' fill='#ffb6b9'/><rect x='115.9' y='55' width='5.55' height='12.2' fill='#ff0000'/><rect x='121.1' y='55' width='3.35' height='12.2' fill='#555555'/><rect x='124.1' y='55' width='2.35' height='12.2' fill='#ffb6b9'/><rect x='126.1' y='55' width='1.55' height='12.2' fill='#555555'/><rect x='127.3' y='55' width='2.35' height='12.2' fill='#ffb6b9'/><rect x='129.3' y='55' width='3.85' height='12.2' fill='#555555'/><rect x='132.8' y='55' width='3.55' height='12.2' fill='#ffb6b9'/><rect x='136' y='55' width='2.15' height='12.2' fill='#555555'/><rect x='137.8' y='55' width='1.85' height='12.2' fill='#ffb6b9'/><rect x='139.3' y='55' width='3.55' height='12.2' fill='#555555'/><rect x='142.5' y='55' width='2.05' height='12.2' fill='#ffb6b9'/><rect x='144.2' y='55' width='5.05' height='12.2' fill='#555555'/><rect x='148.9' y='55' width='4.95' height='12.2' fill='#ffb6b9'/><rect x='153.5' y='55' width='2.75' height='12.2' fill='#ff0000'/><rect x='155.9' y='55' width='5.05' height='12.2' fill='#ffb6b9'/><rect x='160.6' y='55' width='1.75' height='12.2' fill='#555555'/><rect x='162' y='55' width='2.45' height='12.2' fill='#ffb6b9'/><rect x='164.1' y='55' width='1.45' height='12.2' fill='#555555'/><rect x='165.2' y='55' width='4.15' height='12.2' fill='#ff0000'/><rect x='169' y='55' width='3.35' height='12.2' fill='#555555'/><rect x='172' y='55' width='2.35' height='12.2' fill='#ffb6b9'/><rect x='174' y='55' width='1.85' height='12.2' fill='#ff0000'/><rect x='175.5' y='55' width='4.65' height='12.2' fill='#555555'/><rect x='179.8' y='55' width='8.45' height='12.2' fill='#ffb6b9'/><rect x='187.9' y='55' width='4.25' height='12.2' fill='#ff0000'/><rect x='191.8' y='55' width='3.45' height='12.2' fill='#555555'/><rect x='194.9' y='55' width='2.15' height='12.2' fill='#ffb6b9'/><rect x='196.7' y='55' width='1.75' height='12.2' fill='#ff0000'/><rect x='198.1' y='55' width='2.25' height='12.2' fill='#ffb6b9'/><rect x='200' y='55' width='2.25' height='12.2' fill='#ff0000'/><rect x='201.9' y='55' width='5.05' height='12.2' fill='#555555'/><rect x='206.6' y='55' width='2.15' height='12.2' fill='#ffb6b9'/><rect x='208.4' y='55' width='11.95' height='12.2' fill='#555555'/><rect x='220' y='55' width='2.45' height='12.2' fill='#ff0000'/><rect x='222.1' y='55' width='3.25' height='12.2' fill='#ffb6b9'/><rect x='225' y='55' width='1.85' height='12.2' fill='#ff0000'/><rect x='226.5' y='55' width='3.85' height='12.2' fill='#555555'/><rect x='230' y='55' width='3.45' height='12.2' fill='#ffb6b9'/><rect x='233.1' y='55' width='3.25' height='12.2' fill='#555555'/><rect x='236' y='55' width='2.45' height='12.2' fill='#ffb6b9'/><rect x='238.1' y='55' width='7.95' height='12.2' fill='#555555'/><rect x='245.7' y='55' width='5.95' height='12.2' fill='#ff0000'/><rect x='251.3' y='55' width='2.35' height='12.2' fill='#ffb6b9'/><rect x='253.3' y='55' width='3.25' height='12.2' fill='#ff0000'/><rect x='256.2' y='55' width='2.75' height='12.2' fill='#ffb6b9'/><rect x='258.6' y='55' width='2.85' height='12.2' fill='#ff0000'/><rect x='261.1' y='55' width='5.35' height='12.2' fill='#ffb6b9'/><rect x='266.1' y='55' width='1.55' height='12.2' fill='#555555'/><rect x='267.3' y='55' width='2.05' height='12.2' fill='#ff0000'/><rect x='269' y='55' width='2.15' height='12.2' fill='#555555'/><rect x='270.8' y='55' width='1.45' height='12.2' fill='#ffb6b9'/><rect x='271.9' y='55' width='2.15' height='12.2' fill='#555555'/><rect x='273.7' y='55' width='3.85' height='12.2' fill='#ff0000'/><rect x='277.2' y='55' width='2.05' height='12.2' fill='#555555'/><rect x='278.9' y='55' width='3.85' height='12.2' fill='#ff0000'/><rect x='282.4' y='55' width='2.15' height='12.2' fill='#555555'/><rect x='284.2' y='55' width='2.05' height='12.2' fill='#ff0000'/><rect x='285.9' y='55' width='3.35' height='12.2' fill='#555555'/><rect x='288.9' y='55' width='2.05' height='12.2' fill='#ff0000'/><rect x='290.6' y='55' width='12.05' height='12.2' fill='#ffb6b9'/><rect x='302.3' y='55' width='6.15' height='12.2' fill='#555555'/><rect x='308.1' y='55' width='4.45' height='12.2' fill='#ff0000'/><rect x='312.2' y='55' width='4.85' height='12.2' fill='#555555'/><rect x='316.7' y='55' width='1.75' height='12.2' fill='#ffb6b9'/><rect x='318.1' y='55' width='13.35' height='12.2' fill='#555555'/><rect x='331.1' y='55' width='9.25' height='12.2' fill='#ff0000'/><rect x='340' y='55' width='1.55' height='12.2' fill='#555555'/><rect x='341.2' y='55' width='4.35' height='12.2' fill='#ff0000'/><rect x='345.2' y='55' width='6.45' height='12.2' fill='#555555'/><rect x='351.3' y='55' width='1.45' height='12.2' fill='#ffb6b9'/><rect x='352.4' y='55' width='2.15' height='12.2' fill='#ff0000'/><rect x='354.2' y='55' width='3.85' height='12.2' fill='#555555'/><rect x='357.7' y='55' width='2.05' height='12.2' fill='#ffb6b9'/><rect x='359.4' y='55' width='2.15' height='12.2' fill='#555555'/><rect x='361.2' y='55' width='1.55' height='12.2' fill='#ffb6b9'/><rect x='362.4' y='55' width='2.05' height='12.2' fill='#ff0000'/><rect x='364.1' y='55' width='9.15' height='12.2' fill='#555555'/><rect x='372.9' y='55' width='1.25' height='12.2' fill='#ff0000'/><rect x='373.8' y='55' width='2.65' height='12.2' fill='#ffb6b9'/><rect x='376.1' y='55' width='8.25' height='12.2' fill='#ff0000'/><rect x='384' y='55' width='2.65' height='12.2' fill='#555555'/><rect x='386.3' y='55' width='1.85' height='12.2' fill='#ffb6b9'/><rect x='387.8' y='55' width='1.55' height='12.2' fill='#ff0000'/><rect x='389' y='55' width='1.95' height='12.2' fill='#555555'/><rect x='390.6' y='55' width='2.25' height='12.2' fill='#ff0000'/><rect x='392.5' y='55' width='1.75' height='12.2' fill='#555555'/><rect x='393.9' y='55' width='7.35' height='12.2' fill='#ff0000'/><rect x='400.9' y='55' width='1.55' height='12.2' fill='#555555'/><rect x='402.1' y='55' width='2.05' height='12.2' fill='#ff0000'/><rect x='403.8' y='55' width='3.25' height='12.2' fill='#555555'/><rect x='406.7' y='55' width='2.45' height='12.2' fill='#ff0000'/><rect x='408.8' y='55' width='2.05' height='12.2' fill='#555555'/><rect x='410.5' y='55' width='1.85' height='12.2' fill='#ff0000'/><rect x='412' y='55' width='3.85' height='12.2' fill='#555555'/><rect x='415.5' y='55' width='6.95' height='12.2' fill='#ffb6b9'/><rect x='422.1' y='55' width='1.85' height='12.2' fill='#555555'/><rect x='423.6' y='55' width='2.05' height='12.2' fill='#ff0000'/><rect x='425.3' y='55' width='1.75' height='12.2' fill='#555555'/><rect x='426.7' y='55' width='2.45' height='12.2' fill='#ff0000'/><rect x='428.8' y='55' width='1.75' height='12.2' fill='#555555'/><rect x='430.2' y='55' width='2.25' height='12.2' fill='#ff0000'/><rect x='432.1' y='55' width='1.75' height='12.2' fill='#555555'/><rect x='433.5' y='55' width='2.15' height='12.2' fill='#ff0000'/><rect x='435.3' y='55' width='4.95' height='12.2' fill='#ffb6b9'/><rect x='439.9' y='55' width='2.35' height='12.2' fill='#ff0000'/><rect x='441.9' y='55' width='3.45' height='12.2' fill='#ffb6b9'/><rect x='445' y='55' width='2.25' height='12.2' fill='#ff0000'/><rect x='446.9' y='55' width='2.15' height='12.2' fill='#ffb6b9'/><rect x='448.7' y='55' width='2.15' height='12.2' fill='#ff0000'/><rect x='450.5' y='55' width='1.45' height='12.2' fill='#555555'/><rect x='451.6' y='55' width='1.85' height='12.2' fill='#ff0000'/><rect x='453.1' y='55' width='11.75' height='12.2' fill='#ffb6b9'/><rect x='464.5' y='55' width='2.35' height='12.2' fill='#ff0000'/><rect x='466.5' y='55' width='3.55' height='12.2' fill='#ffb6b9'/><rect x='469.7' y='55' width='2.15' height='12.2' fill='#555555'/><rect x='471.5' y='55' width='2.05' height='12.2' fill='#ffb6b9'/><rect x='473.2' y='55' width='1.55' height='12.2' fill='#555555'/><rect x='474.4' y='55' width='2.45' height='12.2' fill='#ff0000'/><rect x='476.5' y='55' width='3.45' height='12.2' fill='#ffb6b9'/><rect x='479.6' y='55' width='2.15' height='12.2' fill='#ff0000'/><rect x='481.4' y='55' width='3.85' height='12.2' fill='#ffb6b9'/><rect x='484.9' y='55' width='3.25' height='12.2' fill='#555555'/><rect x='487.8' y='55' width='2.15' height='12.2' fill='#ff0000'/><rect x='489.6' y='55' width='1.45' height='12.2' fill='#ffb6b9'/><rect x='490.7' y='55' width='2.75' height='12.2' fill='#ff0000'/><rect x='493.1' y='55' width='1.25' height='12.2' fill='#555555'/><rect x='494' y='55' width='4.05' height='12.2' fill='#ffb6b9'/><rect x='497.7' y='55' width='1.65' height='12.2' fill='#555555'/><rect x='499' y='55' width='2.45' height='12.2' fill='#ff0000'/><rect x='501.1' y='55' width='1.65' height='12.2' fill='#ffb6b9'/><rect x='502.4' y='55' width='2.35' height='12.2' fill='#ff0000'/><rect x='504.4' y='55' width='1.75' height='12.2' fill='#555555'/><rect x='505.8' y='55' width='3.65' height='12.2' fill='#ffb6b9'/><rect x='509.1' y='55' width='2.35' height='12.2' fill='#ff0000'/><rect x='511.1' y='55' width='1.75' height='12.2' fill='#555555'/><rect x='512.5' y='55' width='7.05' height='12.2' fill='#ff0000'/><rect x='519.2' y='55' width='1.65' height='12.2' fill='#555555'/><rect x='520.5' y='55' width='2.15' height='12.2' fill='#ff0000'/><rect x='522.3' y='55' width='10.05' height='12.2' fill='#555555'/><rect x='532' y='55' width='2.35' height='12.2' fill='#ffb6b9'/><rect x='534' y='55' width='31.25' height='12.2' fill='#555555'/><rect x='564.9' y='55' width='2.35' height='12.2' fill='#ffb6b9'/><rect x='566.9' y='55' width='1.95' height='12.2' fill='#555555'/><rect x='568.5' y='55' width='2.05' height='12.2' fill='#ff0000'/><rect x='570.2' y='55' width='11.95' height='12.2' fill='#555555'/><rect x='109.2' y='67' width='472.6' height='12' fill='#8c8c8c'/><rect x='125.8' y='67' width='2.1' height='12' fill='#1a7ff5'/><rect x='145.6' y='67' width='1.5' height='12' fill='#1a7ff5'/><rect x='165.2' y='67' width='1.8' height='12' fill='#1a7ff5'/><rect x='201.6' y='67' width='1.7' height='12' fill='#1a7ff5'/><rect x='250.2' y='67' width='2' height='12' fill='#1a7ff5'/><rect x='278.9' y='67' width='2.4' height='12' fill='#1a7ff5'/><rect x='284' y='67' width='1.4' height='12' fill='#1a7ff5'/><rect x='287.1' y='67' width='1.8' height='12' fill='#1a7ff5'/><rect x='331.5' y='67' width='1.7' height='12' fill='#1a7ff5'/><rect x='343.1' y='67' width='1.7' height='12' fill='#1a7ff5'/><rect x='459.8' y='67' width='1.8' height='12' fill='#1a7ff5'/><rect x='490.7' y='67' width='2.1' height='12' fill='#1a7ff5'/><rect x='504.4' y='67' width='1.6' height='12' fill='#1a7ff5'/><rect x='512.5' y='67' width='1.6' height='12' fill='#1a7ff5'/><rect x='523.9' y='67' width='2' height='12' fill='#1a7ff5'/><rect x='534' y='67' width='1.7' height='12' fill='#1a7ff5'/><rect x='537' y='67' width='1.9' height='12' fill='#1a7ff5'/><rect x='559.9' y='67' width='1.9' height='12' fill='#1a7ff5'/><rect x='157' y='67' width='2.2' height='12' fill='#b8dcfc'/><rect x='162' y='67' width='1.8' height='12' fill='#b8dcfc'/><rect x='178.7' y='67' width='1.1' height='12' fill='#b8dcfc'/><rect x='193.4' y='67' width='1.5' height='12' fill='#b8dcfc'/><rect x='221.2' y='67' width='1.8' height='12' fill='#b8dcfc'/><rect x='243.2' y='67' width='1.6' height='12' fill='#b8dcfc'/><rect x='246' y='67' width='2.1' height='12' fill='#b8dcfc'/><rect x='252.2' y='67' width='0.8' height='12' fill='#b8dcfc'/><rect x='268.8' y='67' width='2' height='12' fill='#b8dcfc'/><rect x='271.9' y='67' width='2' height='12' fill='#b8dcfc'/><rect x='281.3' y='67' width='1.1' height='12' fill='#b8dcfc'/><rect x='285.4' y='67' width='1.7' height='12' fill='#b8dcfc'/><rect x='371.1' y='67' width='1.8' height='12' fill='#b8dcfc'/><rect x='437' y='67' width='1.8' height='12' fill='#b8dcfc'/><rect x='447' y='67' width='1.1' height='12' fill='#b8dcfc'/><rect x='461.6' y='67' width='1.2' height='12' fill='#b8dcfc'/><rect x='470.9' y='67' width='1.7' height='12' fill='#b8dcfc'/><rect x='492.8' y='67' width='1.5' height='12' fill='#b8dcfc'/><rect x='557.2' y='67' width='1.9' height='12' fill='#b8dcfc'/><rect x='561.8' y='67' width='1.7' height='12' fill='#b8dcfc'/><rect x='109.2' y='79' width='133.5' height='12' fill='#ff8c00'/><rect x='242.7' y='79' width='49.4' height='12' fill='#2f2fe0'/><rect x='292.1' y='79' width='77.1' height='12' fill='#29abe0'/><rect x='369.2' y='79' width='33.3' height='12' fill='#d8d8d8'/><rect x='402.5' y='79' width='54.2' height='12' fill='#9fc8cc'/><rect x='456.7' y='79' width='69.2' height='12' fill='#b8a0d0'/><rect x='525.9' y='79' width='55.9' height='12' fill='#ff0000'/></g><text x='175.65' y='89.1' font-size='12.2' text-anchor='middle' style='fill:#222'>1</text><text x='267.1' y='89.1' font-size='12.2' text-anchor='middle' style='fill:#fff'>2</text><text x='330.35' y='89.1' font-size='12.2' text-anchor='middle' style='fill:#222'>3</text><text x='385.55' y='89.1' font-size='12.2' text-anchor='middle' style='fill:#222'>4</text><text x='429.3' y='89.1' font-size='12.2' text-anchor='middle' style='fill:#222'>5</text><text x='491' y='89.1' font-size='12.2' text-anchor='middle' style='fill:#222'>6</text><text x='553.55' y='89.1' font-size='12.2' text-anchor='middle' style='fill:#222'>7</text><text x='93.4' y='64.3' font-size='11' textLength='16' lengthAdjust='spacingAndGlyphs'>HIV</text><text x='85.6' y='76.5' font-size='11' textLength='23.8' lengthAdjust='spacingAndGlyphs'>sPTB</text><text x='75.5' y='88.4' font-size='11' textLength='33.9' lengthAdjust='spacingAndGlyphs'>mgClust</text><rect x='109.2' y='90.8' width='472.6' height='478.2' fill='#ffff00'/><g clip-path='url(#hc)'><rect x='109.2' y='90.8' width='4.05' height='24.21' fill='#f01888'/><rect x='112.9' y='90.8' width='3.85' height='24.21' fill='#f0208a'/><rect x='116.4' y='90.8' width='7.95' height='24.21' fill='#ba2230'/><rect x='124' y='90.8' width='6.35' height='24.21' fill='#bc2434'/><rect x='130' y='90.8' width='8.35' height='24.21' fill='#be2032'/><rect x='138' y='90.8' width='8.35' height='24.21' fill='#bc2236'/><rect x='146' y='90.8' width='6.35' height='24.21' fill='#be2034'/><rect x='152' y='90.8' width='8.35' height='24.21' fill='#c02038'/><rect x='160' y='90.8' width='6.35' height='24.21' fill='#c21e3c'/><rect x='166' y='90.8' width='10.35' height='24.21' fill='#c81e44'/><rect x='176' y='90.8' width='11.55' height='24.21' fill='#cc1e46'/><rect x='187.2' y='90.8' width='3.25' height='24.21' fill='#a03090'/><rect x='190.1' y='90.8' width='3.85' height='24.21' fill='#d82080'/><rect x='193.6' y='90.8' width='10.25' height='24.21' fill='#f01880'/><rect x='203.5' y='90.8' width='4.45' height='24.21' fill='#c02890'/><rect x='207.6' y='90.8' width='3.85' height='24.21' fill='#e81878'/><rect x='211.1' y='90.8' width='9.15' height='24.21' fill='#d81c58'/><rect x='219.9' y='90.8' width='10.85' height='24.21' fill='#e41868'/><rect x='230.4' y='90.8' width='9.75' height='24.21' fill='#f01880'/><rect x='239.8' y='90.8' width='3.35' height='24.21' fill='#8c3890'/><rect x='242.8' y='90.8' width='3.55' height='24.21' fill='#4070a0'/><rect x='246' y='90.8' width='7.75' height='24.21' fill='#205890'/><rect x='253.4' y='90.8' width='4.65' height='24.21' fill='#603c90'/><rect x='257.7' y='90.8' width='3.55' height='24.21' fill='#303c80'/><rect x='260.9' y='90.8' width='2.05' height='24.21' fill='#a03080'/><rect x='262.6' y='90.8' width='1.75' height='24.21' fill='#a0f0f0'/><rect x='264' y='90.8' width='3.55' height='24.21' fill='#3070a8'/><rect x='267.2' y='90.8' width='3.55' height='24.21' fill='#80c0e0'/><rect x='270.4' y='90.8' width='3.55' height='24.21' fill='#205090'/><rect x='273.6' y='90.8' width='5.75' height='24.21' fill='#40408a'/><rect x='279' y='90.8' width='3.05' height='24.21' fill='#4090c0'/><rect x='281.7' y='90.8' width='2.95' height='24.21' fill='#a0f0ff'/><rect x='284.3' y='90.8' width='2.45' height='24.21' fill='#5090c0'/><rect x='286.4' y='90.8' width='4.55' height='24.21' fill='#60f0c0'/><rect x='290.6' y='90.8' width='4.65' height='24.21' fill='#20e890'/><rect x='294.9' y='90.8' width='10.05' height='24.21' fill='#10e080'/><rect x='313' y='90.8' width='2.55' height='24.21' fill='#d8ff20'/><rect x='321.6' y='90.8' width='2.45' height='24.21' fill='#c0ff30'/><rect x='323.7' y='90.8' width='8.65' height='24.21' fill='#f0ff10'/><rect x='332' y='90.8' width='2.35' height='24.21' fill='#c8ff30'/><rect x='339.7' y='90.8' width='2.05' height='24.21' fill='#40e060'/><rect x='343' y='90.8' width='2.35' height='24.21' fill='#e8ff20'/><rect x='349' y='90.8' width='2.75' height='24.21' fill='#e8ff20'/><rect x='354.6' y='90.8' width='2.45' height='24.21' fill='#c8ff30'/><rect x='356.7' y='90.8' width='2.45' height='24.21' fill='#40e860'/><rect x='360' y='90.8' width='2.35' height='24.21' fill='#e0ff20'/><rect x='366.3' y='90.8' width='2.45' height='24.21' fill='#d0ff30'/><rect x='368.4' y='90.8' width='2.45' height='24.21' fill='#e8ff20'/><rect x='370.5' y='90.8' width='2.55' height='24.21' fill='#c0ff30'/><rect x='372.7' y='90.8' width='4.65' height='24.21' fill='#e8ff20'/><rect x='377' y='90.8' width='1.35' height='24.21' fill='#c0ff30'/><rect x='384.4' y='90.8' width='5.65' height='24.21' fill='#30e880'/><rect x='389.7' y='90.8' width='2.45' height='24.21' fill='#60f060'/><rect x='391.8' y='90.8' width='3.55' height='24.21' fill='#c0ff30'/><rect x='395' y='90.8' width='6.75' height='24.21' fill='#e0ff20'/><rect x='400' y='90.8' width='6.15' height='24.21' fill='#e0ff20'/><rect x='405.8' y='90.8' width='3.35' height='24.21' fill='#a0f040'/><rect x='408.8' y='90.8' width='3.25' height='24.21' fill='#e8ff20'/><rect x='411.7' y='90.8' width='2.55' height='24.21' fill='#80f050'/><rect x='413.9' y='90.8' width='8.35' height='24.21' fill='#d0ff30'/><rect x='421.9' y='90.8' width='2.55' height='24.21' fill='#40e870'/><rect x='424.1' y='90.8' width='3.25' height='24.21' fill='#a0f040'/><rect x='427' y='90.8' width='1.85' height='24.21' fill='#30e880'/><rect x='428.5' y='90.8' width='1.75' height='24.21' fill='#a0f8f0'/><rect x='439.4' y='90.8' width='1.85' height='24.21' fill='#d8ff30'/><rect x='444.5' y='90.8' width='4.05' height='24.21' fill='#90f040'/><rect x='448.2' y='90.8' width='9.05' height='24.21' fill='#e0ff20'/><rect x='456.9' y='90.8' width='4.75' height='24.21' fill='#a0f8f0'/><rect x='461.3' y='90.8' width='3.25' height='24.21' fill='#80f0c0'/><rect x='464.2' y='90.8' width='9.15' height='24.21' fill='#20e880'/><rect x='473' y='90.8' width='5.45' height='24.21' fill='#10e070'/><rect x='478.1' y='90.8' width='4.05' height='24.21' fill='#a0f040'/><rect x='481.8' y='90.8' width='6.15' height='24.21' fill='#d8ff30'/><rect x='487.6' y='90.8' width='2.55' height='24.21' fill='#60e870'/><rect x='489.8' y='90.8' width='3.15' height='24.21' fill='#80f050'/><rect x='492.6' y='90.8' width='2.35' height='24.21' fill='#d8ff30'/><rect x='494.6' y='90.8' width='3.65' height='24.21' fill='#40e870'/><rect x='497.9' y='90.8' width='3.65' height='24.21' fill='#50f0b0'/><rect x='501.2' y='90.8' width='2.25' height='24.21' fill='#30e880'/><rect x='503.1' y='90.8' width='8.25' height='24.21' fill='#e0ff20'/><rect x='511' y='90.8' width='1.65' height='24.21' fill='#60e860'/><rect x='512.3' y='90.8' width='3.65' height='24.21' fill='#e8ff20'/><rect x='515.6' y='90.8' width='6.95' height='24.21' fill='#c0f838'/><rect x='528.8' y='90.8' width='3.55' height='24.21' fill='#10e080'/><rect x='532' y='90.8' width='4.35' height='24.21' fill='#a8f0f0'/><rect x='536' y='90.8' width='6.25' height='24.21' fill='#e8ff20'/><rect x='541.9' y='90.8' width='2.35' height='24.21' fill='#30e880'/><rect x='549.1' y='90.8' width='8.25' height='24.21' fill='#e0ff20'/><rect x='557' y='90.8' width='4.95' height='24.21' fill='#f0ff10'/><rect x='122' y='114.71' width='5.35' height='24.21' fill='#e8ff20'/><rect x='133' y='114.71' width='4.35' height='24.21' fill='#e8ff20'/><rect x='143' y='114.71' width='6.35' height='24.21' fill='#c8f838'/><rect x='157' y='114.71' width='13.35' height='24.21' fill='#d8ff30'/><rect x='172.3' y='114.71' width='4.75' height='24.21' fill='#c8f838'/><rect x='180' y='114.71' width='5.75' height='24.21' fill='#eeff10'/><rect x='185.4' y='114.71' width='4.75' height='24.21' fill='#b0f040'/><rect x='189.8' y='114.71' width='2.25' height='24.21' fill='#e0ff20'/><rect x='191.7' y='114.71' width='8.85' height='24.21' fill='#e8ff20'/><rect x='200.2' y='114.71' width='3.55' height='24.21' fill='#40e860'/><rect x='203.4' y='114.71' width='3.55' height='24.21' fill='#20e070'/><rect x='206.6' y='114.71' width='3.55' height='24.21' fill='#90f040'/><rect x='209.8' y='114.71' width='4.55' height='24.21' fill='#d0ff20'/><rect x='214' y='114.71' width='3.55' height='24.21' fill='#b0f030'/><rect x='220.4' y='114.71' width='4.65' height='24.21' fill='#a0f040'/><rect x='224.7' y='114.71' width='6.65' height='24.21' fill='#e8ff18'/><rect x='231' y='114.71' width='3.65' height='24.21' fill='#b0f030'/><rect x='234.3' y='114.71' width='3.45' height='24.21' fill='#e0ff20'/><rect x='263.9' y='114.71' width='2.55' height='24.21' fill='#80e850'/><rect x='266.1' y='114.71' width='4.85' height='24.21' fill='#d8ff30'/><rect x='270.6' y='114.71' width='3.25' height='24.21' fill='#30e870'/><rect x='273.5' y='114.71' width='2.55' height='24.21' fill='#60e860'/><rect x='275.7' y='114.71' width='5.45' height='24.21' fill='#40f0a0'/><rect x='280.8' y='114.71' width='3.65' height='24.21' fill='#b0fff0'/><rect x='284.1' y='114.71' width='5.45' height='24.21' fill='#a0d0e8'/><rect x='289.2' y='114.71' width='2.85' height='24.21' fill='#40e080'/><rect x='371.6' y='114.71' width='1.45' height='24.21' fill='#c0f040'/><rect x='372.7' y='114.71' width='1.75' height='24.21' fill='#c03090'/><rect x='374.1' y='114.71' width='1.65' height='24.21' fill='#6080c0'/><rect x='375.4' y='114.71' width='2.55' height='24.21' fill='#40e080'/><rect x='380' y='114.71' width='2.55' height='24.21' fill='#a0f0f0'/><rect x='390.7' y='114.71' width='1.45' height='24.21' fill='#60e860'/><rect x='527.2' y='114.71' width='3.95' height='24.21' fill='#b0f8f0'/><rect x='530.8' y='114.71' width='2.55' height='24.21' fill='#e8ff20'/><rect x='538' y='114.71' width='2.35' height='24.21' fill='#eaff20'/><rect x='543' y='114.71' width='3.35' height='24.21' fill='#eaff20'/><rect x='550' y='114.71' width='2.35' height='24.21' fill='#eaff20'/><rect x='558' y='114.71' width='2.35' height='24.21' fill='#eaff20'/><rect x='109.2' y='138.62' width='7.15' height='24.21' fill='#10e890'/><rect x='292.3' y='138.62' width='2.55' height='24.21' fill='#6040a0'/><rect x='294.5' y='138.62' width='2.85' height='24.21' fill='#c02890'/><rect x='297' y='138.62' width='8.55' height='24.21' fill='#f01888'/><rect x='305.2' y='138.62' width='6.15' height='24.21' fill='#c02040'/><rect x='311' y='138.62' width='2.35' height='24.21' fill='#e01860'/><rect x='313' y='138.62' width='5.75' height='24.21' fill='#f01880'/><rect x='318.4' y='138.62' width='3.55' height='24.21' fill='#e81878'/><rect x='321.6' y='138.62' width='5.65' height='24.21' fill='#f01888'/><rect x='326.9' y='138.62' width='4.65' height='24.21' fill='#e81880'/><rect x='331.2' y='138.62' width='6.75' height='24.21' fill='#c02890'/><rect x='337.6' y='138.62' width='3.45' height='24.21' fill='#3070a8'/><rect x='340.7' y='138.62' width='5.65' height='24.21' fill='#204f8a'/><rect x='346' y='138.62' width='4.25' height='24.21' fill='#4c84b4'/><rect x='349.9' y='138.62' width='1.85' height='24.21' fill='#1f4f8a'/><rect x='351.4' y='138.62' width='1.85' height='24.21' fill='#70b0d8'/><rect x='352.9' y='138.62' width='3.05' height='24.21' fill='#283880'/><rect x='355.6' y='138.62' width='2.55' height='24.21' fill='#f01888'/><rect x='357.8' y='138.62' width='2.45' height='24.21' fill='#8c3090'/><rect x='359.9' y='138.62' width='3.15' height='24.21' fill='#204f8a'/><rect x='362.7' y='138.62' width='2.85' height='24.21' fill='#90d8f0'/><rect x='365.2' y='138.62' width='3.55' height='24.21' fill='#204f8a'/><rect x='382.2' y='138.62' width='2.55' height='24.21' fill='#90f0e0'/><rect x='384.4' y='138.62' width='3.45' height='24.21' fill='#80f0d0'/><rect x='387.5' y='138.62' width='2.55' height='24.21' fill='#40e870'/><rect x='184.7' y='162.53' width='2.45' height='24.21' fill='#30e080'/><rect x='242.8' y='162.53' width='10.55' height='24.21' fill='#b0f8f8'/><rect x='253' y='162.53' width='3.95' height='24.21' fill='#20e080'/><rect x='256.6' y='162.53' width='6.35' height='24.21' fill='#40f0a0'/><rect x='378' y='162.53' width='1.65' height='24.21' fill='#40e060'/><rect x='392.2' y='162.53' width='2.25' height='24.21' fill='#a0f8f0'/><rect x='394.1' y='162.53' width='5.45' height='24.21' fill='#50e860'/><rect x='399.2' y='162.53' width='3.45' height='24.21' fill='#20e890'/><rect x='402.3' y='162.53' width='7.95' height='24.21' fill='#70f0d0'/><rect x='409.9' y='162.53' width='2.95' height='24.21' fill='#1f4f8a'/><rect x='412.5' y='162.53' width='2.35' height='24.21' fill='#5090c0'/><rect x='414.5' y='162.53' width='2.65' height='24.21' fill='#80b8d8'/><rect x='416.8' y='162.53' width='2.15' height='24.21' fill='#4080b0'/><rect x='418.6' y='162.53' width='2.45' height='24.21' fill='#b0f8f8'/><rect x='420.7' y='162.53' width='2.35' height='24.21' fill='#80f0d0'/><rect x='422.7' y='162.53' width='4.45' height='24.21' fill='#b0f0f8'/><rect x='426.8' y='162.53' width='5.45' height='24.21' fill='#10e880'/><rect x='431.9' y='162.53' width='3.45' height='24.21' fill='#70f050'/><rect x='435' y='162.53' width='4.35' height='24.21' fill='#20e880'/><rect x='439' y='162.53' width='5.55' height='24.21' fill='#40e870'/><rect x='444.2' y='162.53' width='1.85' height='24.21' fill='#80f0d0'/><rect x='445.7' y='162.53' width='2.85' height='24.21' fill='#20e880'/><rect x='448.2' y='162.53' width='4.45' height='24.21' fill='#b0f030'/><rect x='452.3' y='162.53' width='2.95' height='24.21' fill='#40e870'/><rect x='454.9' y='162.53' width='2.35' height='24.21' fill='#d0ff30'/><rect x='456.6' y='162.53' width='1.45' height='24.21' fill='#70f0d0'/><rect x='457.7' y='162.53' width='2.55' height='24.21' fill='#a0f0f0'/><rect x='459.9' y='162.53' width='2.05' height='24.21' fill='#5090c0'/><rect x='461.6' y='162.53' width='2.25' height='24.21' fill='#3f7fb0'/><rect x='463.5' y='162.53' width='1.35' height='24.21' fill='#5a98c4'/><rect x='464.5' y='162.53' width='1.85' height='24.21' fill='#3f7fb0'/><rect x='466' y='162.53' width='7.45' height='24.21' fill='#88c8e0'/><rect x='473.1' y='162.53' width='3.05' height='24.21' fill='#b0ffff'/><rect x='475.8' y='162.53' width='4.15' height='24.21' fill='#90d0e8'/><rect x='479.6' y='162.53' width='2.55' height='24.21' fill='#3070a8'/><rect x='481.8' y='162.53' width='3.15' height='24.21' fill='#90d0e0'/><rect x='484.6' y='162.53' width='4.65' height='24.21' fill='#d02050'/><rect x='488.9' y='162.53' width='5.35' height='24.21' fill='#f01888'/><rect x='493.9' y='162.53' width='2.55' height='24.21' fill='#8c3090'/><rect x='496.1' y='162.53' width='3.05' height='24.21' fill='#6c3890'/><rect x='498.8' y='162.53' width='4.75' height='24.21' fill='#a02c90'/><rect x='503.2' y='162.53' width='4.75' height='24.21' fill='#c02890'/><rect x='507.6' y='162.53' width='6.85' height='24.21' fill='#1f4f8a'/><rect x='514.1' y='162.53' width='3.65' height='24.21' fill='#404090'/><rect x='517.4' y='162.53' width='3.65' height='24.21' fill='#603c90'/><rect x='520.7' y='162.53' width='4.85' height='24.21' fill='#503c90'/><rect x='535.5' y='162.53' width='1.85' height='24.21' fill='#80f0d0'/><rect x='191.7' y='186.44' width='1.45' height='24.21' fill='#d0f840'/><rect x='200.2' y='186.44' width='1.45' height='24.21' fill='#d0f840'/><rect x='239.6' y='186.44' width='3.55' height='24.21' fill='#40e890'/><rect x='264' y='186.44' width='1.35' height='24.21' fill='#b0f040'/><rect x='294.9' y='186.44' width='2.45' height='24.21' fill='#b0f040'/><rect x='311.6' y='186.44' width='1.85' height='24.21' fill='#40e060'/><rect x='524.4' y='186.44' width='2.15' height='24.21' fill='#40e070'/><rect x='526.2' y='186.44' width='3.05' height='24.21' fill='#5088b8'/><rect x='528.9' y='186.44' width='2.25' height='24.21' fill='#a0f0f0'/><rect x='530.8' y='186.44' width='1.25' height='24.21' fill='#5040a0'/><rect x='531.7' y='186.44' width='4.35' height='24.21' fill='#3070a8'/><rect x='535.7' y='186.44' width='1.85' height='24.21' fill='#a0f0f0'/><rect x='537.2' y='186.44' width='3.45' height='24.21' fill='#f01890'/><rect x='540.3' y='186.44' width='4.05' height='24.21' fill='#e81878'/><rect x='544' y='186.44' width='4.35' height='24.21' fill='#e0186a'/><rect x='548' y='186.44' width='4.35' height='24.21' fill='#d81c58'/><rect x='552' y='186.44' width='4.35' height='24.21' fill='#d01c50'/><rect x='556' y='186.44' width='6.35' height='24.21' fill='#c82048'/><rect x='562' y='186.44' width='8.35' height='24.21' fill='#c02040'/><rect x='570' y='186.44' width='12.35' height='24.21' fill='#bc2238'/><rect x='128.4' y='210.35' width='5.95' height='24.21' fill='#e8ff20'/><rect x='145.6' y='210.35' width='3.75' height='24.21' fill='#ecff20'/><rect x='157' y='210.35' width='9.35' height='24.21' fill='#e8ff20'/><rect x='173' y='210.35' width='7.35' height='24.21' fill='#eaff20'/><rect x='189' y='210.35' width='2.65' height='24.21' fill='#a0f040'/><rect x='205' y='210.35' width='4.85' height='24.21' fill='#eaff20'/><rect x='225' y='210.35' width='4.95' height='24.21' fill='#e8ff20'/><rect x='235.3' y='210.35' width='2.65' height='24.21' fill='#e8ff20'/><rect x='252.4' y='210.35' width='2.25' height='24.21' fill='#50e060'/><rect x='270.7' y='210.35' width='4.95' height='24.21' fill='#b0f040'/><rect x='289' y='210.35' width='3.05' height='24.21' fill='#20d880'/><rect x='327.9' y='210.35' width='4.85' height='24.21' fill='#80e860'/><rect x='338.1' y='210.35' width='7.95' height='24.21' fill='#30e8a0'/><rect x='361.7' y='210.35' width='1.55' height='24.21' fill='#d0ff30'/><rect x='381.1' y='210.35' width='4.95' height='24.21' fill='#6090c0'/><rect x='401.7' y='210.35' width='9.55' height='24.21' fill='#c8f830'/><rect x='410.9' y='210.35' width='4.85' height='24.21' fill='#30e880'/><rect x='415.4' y='210.35' width='3.85' height='24.21' fill='#80f060'/><rect x='418.9' y='210.35' width='4.85' height='24.21' fill='#20e080'/><rect x='423.4' y='210.35' width='4.95' height='24.21' fill='#30e880'/><rect x='428' y='210.35' width='3.75' height='24.21' fill='#70f0c0'/><rect x='431.4' y='210.35' width='2.65' height='24.21' fill='#30e880'/><rect x='433.7' y='210.35' width='12.95' height='24.21' fill='#d0ff30'/><rect x='446.3' y='210.35' width='6.05' height='24.21' fill='#30e870'/><rect x='463' y='210.35' width='2.65' height='24.21' fill='#b0f040'/><rect x='465.3' y='210.35' width='4.95' height='24.21' fill='#c8f830'/><rect x='469.9' y='210.35' width='1.85' height='24.21' fill='#40e070'/><rect x='471.4' y='210.35' width='2.25' height='24.21' fill='#e0ff20'/><rect x='473.3' y='210.35' width='3.05' height='24.21' fill='#80e850'/><rect x='480' y='210.35' width='2.35' height='24.21' fill='#e8ff20'/><rect x='496' y='210.35' width='2.35' height='24.21' fill='#e8ff20'/><rect x='515.5' y='210.35' width='3.85' height='24.21' fill='#30e070'/><rect x='519' y='210.35' width='4.85' height='24.21' fill='#d8ff30'/><rect x='252.4' y='234.26' width='2.25' height='24.21' fill='#a0f040'/><rect x='270.7' y='234.26' width='3.65' height='24.21' fill='#e0ff20'/><rect x='292.4' y='234.26' width='21.95' height='24.21' fill='#e8ff20'/><rect x='314' y='234.26' width='8.45' height='24.21' fill='#d8ff30'/><rect x='322.1' y='234.26' width='3.55' height='24.21' fill='#30e070'/><rect x='325.3' y='234.26' width='10.05' height='24.21' fill='#d8ff30'/><rect x='335' y='234.26' width='1.95' height='24.21' fill='#60e860'/><rect x='336.6' y='234.26' width='14.75' height='24.21' fill='#f0ff10'/><rect x='351' y='234.26' width='1.95' height='24.21' fill='#40e890'/><rect x='352.6' y='234.26' width='1.95' height='24.21' fill='#80f0d0'/><rect x='354.2' y='234.26' width='1.95' height='24.21' fill='#40e890'/><rect x='362.3' y='234.26' width='8.35' height='24.21' fill='#d0ff30'/><rect x='373.5' y='234.26' width='3.85' height='24.21' fill='#90f0d0'/><rect x='377' y='234.26' width='3.25' height='24.21' fill='#b0f040'/><rect x='379.9' y='234.26' width='3.55' height='24.21' fill='#c0f040'/><rect x='388.8' y='234.26' width='6.55' height='24.21' fill='#20e080'/><rect x='395' y='234.26' width='0.85' height='24.21' fill='#20e080'/><rect x='395.5' y='234.26' width='1.85' height='24.21' fill='#b0f040'/><rect x='397' y='234.26' width='2.25' height='24.21' fill='#30e080'/><rect x='398.9' y='234.26' width='3.05' height='24.21' fill='#e8ff20'/><rect x='401.6' y='234.26' width='8.25' height='24.21' fill='#e0ff20'/><rect x='409.5' y='234.26' width='2.25' height='24.21' fill='#b0f040'/><rect x='411.4' y='234.26' width='7.65' height='24.21' fill='#e8ff20'/><rect x='418.7' y='234.26' width='1.65' height='24.21' fill='#30e070'/><rect x='420' y='234.26' width='6.25' height='24.21' fill='#d0ff30'/><rect x='425.9' y='234.26' width='1.65' height='24.21' fill='#30e080'/><rect x='427.2' y='234.26' width='6.25' height='24.21' fill='#e0ff20'/><rect x='433.1' y='234.26' width='1.65' height='24.21' fill='#30e080'/><rect x='434.4' y='234.26' width='22.05' height='24.21' fill='#e8ff20'/><rect x='456.1' y='234.26' width='4.25' height='24.21' fill='#20e080'/><rect x='460' y='234.26' width='3.65' height='24.21' fill='#d8ff30'/><rect x='463.3' y='234.26' width='11.55' height='24.21' fill='#e8ff20'/><rect x='474.5' y='234.26' width='2.95' height='24.21' fill='#30e890'/><rect x='477.1' y='234.26' width='3.05' height='24.21' fill='#90f8e0'/><rect x='479.8' y='234.26' width='3.55' height='24.21' fill='#20e080'/><rect x='483' y='234.26' width='18.05' height='24.21' fill='#d8ff30'/><rect x='500.7' y='234.26' width='3.75' height='24.21' fill='#30e880'/><rect x='504.1' y='234.26' width='2.65' height='24.21' fill='#70e860'/><rect x='506.4' y='234.26' width='8.35' height='24.21' fill='#a0f040'/><rect x='514.4' y='234.26' width='8.35' height='24.21' fill='#d8ff30'/><rect x='522.4' y='234.26' width='7.95' height='24.21' fill='#eaff20'/><rect x='193.6' y='258.17' width='6.05' height='24.21' fill='#c0f040'/><rect x='261.6' y='258.17' width='4.85' height='24.21' fill='#60e8a0'/><rect x='273' y='258.17' width='8.35' height='24.21' fill='#d0ff30'/><rect x='285.6' y='258.17' width='2.65' height='24.21' fill='#10d870'/><rect x='331.8' y='258.17' width='3.55' height='24.21' fill='#e8ff20'/><rect x='343' y='258.17' width='8.35' height='24.21' fill='#e8ff20'/><rect x='351' y='258.17' width='2.75' height='24.21' fill='#30e080'/><rect x='353.4' y='258.17' width='5.15' height='24.21' fill='#a0f040'/><rect x='358.2' y='258.17' width='2.85' height='24.21' fill='#30e080'/><rect x='360.7' y='258.17' width='2.75' height='24.21' fill='#60f0c0'/><rect x='363.1' y='258.17' width='6.75' height='24.21' fill='#20e080'/><rect x='369.5' y='258.17' width='4.35' height='24.21' fill='#c0f040'/><rect x='377.5' y='258.17' width='1.95' height='24.21' fill='#c0f040'/><rect x='385.6' y='258.17' width='3.55' height='24.21' fill='#b0ffff'/><rect x='388.8' y='258.17' width='2.75' height='24.21' fill='#5090c0'/><rect x='391.2' y='258.17' width='3.55' height='24.21' fill='#a0f0f0'/><rect x='394.4' y='258.17' width='2.75' height='24.21' fill='#70e0d0'/><rect x='396.8' y='258.17' width='1.95' height='24.21' fill='#80c8e0'/><rect x='398.4' y='258.17' width='3.65' height='24.21' fill='#304f8a'/><rect x='401.7' y='258.17' width='25.55' height='24.21' fill='#eaff20'/><rect x='426.9' y='258.17' width='1.45' height='24.21' fill='#40e070'/><rect x='450.9' y='258.17' width='2.45' height='24.21' fill='#d0ff30'/><rect x='454' y='258.17' width='3.65' height='24.21' fill='#e0ff20'/><rect x='457.3' y='258.17' width='2.65' height='24.21' fill='#40e070'/><rect x='459.6' y='258.17' width='25.45' height='24.21' fill='#f0ff18'/><rect x='506.4' y='258.17' width='3.75' height='24.21' fill='#30e070'/><rect x='509.8' y='258.17' width='4.95' height='24.21' fill='#b0f040'/><rect x='535' y='258.17' width='2.65' height='24.21' fill='#e0ff20'/><rect x='270.7' y='282.08' width='2.65' height='24.21' fill='#a0f040'/><rect x='289' y='282.08' width='3.05' height='24.21' fill='#40e060'/><rect x='331.8' y='282.08' width='2.75' height='24.21' fill='#a0f040'/><rect x='343' y='282.08' width='3.55' height='24.21' fill='#60e860'/><rect x='346.2' y='282.08' width='5.15' height='24.21' fill='#20e080'/><rect x='350.3' y='282.08' width='16.05' height='24.21' fill='#f0ff10'/><rect x='366.3' y='282.08' width='2.65' height='24.21' fill='#c0f840'/><rect x='375.4' y='282.08' width='1.55' height='24.21' fill='#30e080'/><rect x='376.6' y='282.08' width='18.65' height='24.21' fill='#e0ff20'/><rect x='394.9' y='282.08' width='9.45' height='24.21' fill='#d0ff30'/><rect x='404' y='282.08' width='10.65' height='24.21' fill='#c0f840'/><rect x='414.3' y='282.08' width='4.95' height='24.21' fill='#20e080'/><rect x='418.9' y='282.08' width='4.85' height='24.21' fill='#60e860'/><rect x='423.4' y='282.08' width='9.55' height='24.21' fill='#c0f840'/><rect x='432.6' y='282.08' width='2.65' height='24.21' fill='#40e870'/><rect x='434.9' y='282.08' width='3.75' height='24.21' fill='#b0f8f8'/><rect x='438.3' y='282.08' width='3.75' height='24.21' fill='#80f0d0'/><rect x='441.7' y='282.08' width='3.75' height='24.21' fill='#20e080'/><rect x='445.1' y='282.08' width='6.15' height='24.21' fill='#30e880'/><rect x='450.9' y='282.08' width='9.45' height='24.21' fill='#d8ff30'/><rect x='466.4' y='282.08' width='6.05' height='24.21' fill='#b0f040'/><rect x='472.1' y='282.08' width='3.85' height='24.21' fill='#e0ff20'/><rect x='475.6' y='282.08' width='4.85' height='24.21' fill='#c0f840'/><rect x='515.5' y='282.08' width='1.95' height='24.21' fill='#60e860'/><rect x='520' y='282.08' width='2.75' height='24.21' fill='#90f040'/><rect x='278.7' y='305.99' width='2.65' height='24.21' fill='#40e060'/><rect x='289' y='305.99' width='4.95' height='24.21' fill='#e8ff20'/><rect x='318.7' y='305.99' width='2.65' height='24.21' fill='#b0f040'/><rect x='330' y='305.99' width='2.75' height='24.21' fill='#e8ff20'/><rect x='345.4' y='305.99' width='2.75' height='24.21' fill='#b0f040'/><rect x='347.8' y='305.99' width='3.55' height='24.21' fill='#e0ff20'/><rect x='360.7' y='305.99' width='5.15' height='24.21' fill='#40e870'/><rect x='365.5' y='305.99' width='2.75' height='24.21' fill='#e8ff20'/><rect x='367.9' y='305.99' width='1.95' height='24.21' fill='#30e080'/><rect x='369.5' y='305.99' width='8.35' height='24.21' fill='#e8ff20'/><rect x='377.5' y='305.99' width='3.55' height='24.21' fill='#88b0d8'/><rect x='388' y='305.99' width='3.75' height='24.21' fill='#a0f040'/><rect x='391.4' y='305.99' width='2.65' height='24.21' fill='#e8ff20'/><rect x='393.7' y='305.99' width='6.05' height='24.21' fill='#40e870'/><rect x='399.4' y='305.99' width='16.35' height='24.21' fill='#d0ff30'/><rect x='415.4' y='305.99' width='3.85' height='24.21' fill='#40e870'/><rect x='418.9' y='305.99' width='12.85' height='24.21' fill='#d0ff30'/><rect x='431.4' y='305.99' width='20.95' height='24.21' fill='#b0f040'/><rect x='452' y='305.99' width='5.65' height='24.21' fill='#d0ff30'/><rect x='457.3' y='305.99' width='15.05' height='24.21' fill='#e8ff20'/><rect x='492.7' y='305.99' width='3.75' height='24.21' fill='#b0f040'/><rect x='509.8' y='305.99' width='14.05' height='24.21' fill='#c8f830'/><rect x='537' y='305.99' width='2.35' height='24.21' fill='#e8ff20'/><rect x='254' y='329.9' width='1.95' height='24.21' fill='#a0f040'/><rect x='321.4' y='329.9' width='1.95' height='24.21' fill='#a0f040'/><rect x='330.5' y='329.9' width='2.65' height='24.21' fill='#e0ff20'/><rect x='342' y='329.9' width='1.35' height='24.21' fill='#a0f040'/><rect x='347.7' y='329.9' width='2.65' height='24.21' fill='#40e060'/><rect x='355' y='329.9' width='11.75' height='24.21' fill='#f4ff10'/><rect x='377.8' y='329.9' width='3.15' height='24.21' fill='#30e080'/><rect x='387.2' y='329.9' width='1.95' height='24.21' fill='#b0f040'/><rect x='388.8' y='329.9' width='13.25' height='24.21' fill='#e8ff20'/><rect x='401.7' y='329.9' width='8.35' height='24.21' fill='#b0f040'/><rect x='409.7' y='329.9' width='4.35' height='24.21' fill='#e8ff20'/><rect x='413.7' y='329.9' width='5.15' height='24.21' fill='#d8ff30'/><rect x='418.5' y='329.9' width='8.45' height='24.21' fill='#e4ff20'/><rect x='426.6' y='329.9' width='2.75' height='24.21' fill='#a0f040'/><rect x='429' y='329.9' width='1.95' height='24.21' fill='#50e0b0'/><rect x='430.6' y='329.9' width='2.75' height='24.21' fill='#80f0c0'/><rect x='433' y='329.9' width='6.75' height='24.21' fill='#d8ff30'/><rect x='439.4' y='329.9' width='2.75' height='24.21' fill='#50e070'/><rect x='441.8' y='329.9' width='5.95' height='24.21' fill='#e0ff20'/><rect x='447.4' y='329.9' width='17.25' height='24.21' fill='#f4ff10'/><rect x='464.3' y='329.9' width='3.55' height='24.21' fill='#80e860'/><rect x='467.5' y='329.9' width='2.85' height='24.21' fill='#b0f040'/><rect x='470' y='329.9' width='10.35' height='24.21' fill='#f2ff14'/><rect x='502.4' y='329.9' width='2.25' height='24.21' fill='#30d880'/><rect x='513.9' y='329.9' width='2.65' height='24.21' fill='#b0f040'/><rect x='518.4' y='329.9' width='2.65' height='24.21' fill='#b0f040'/><rect x='289.4' y='353.81' width='1.45' height='24.21' fill='#90f040'/><rect x='310' y='353.81' width='1.35' height='24.21' fill='#b0f040'/><rect x='314' y='353.81' width='1.35' height='24.21' fill='#b0f040'/><rect x='323' y='353.81' width='1.35' height='24.21' fill='#b0f040'/><rect x='329' y='353.81' width='1.35' height='24.21' fill='#b0f040'/><rect x='363' y='353.81' width='4.95' height='24.21' fill='#d8ff30'/><rect x='368.7' y='353.81' width='2.65' height='24.21' fill='#d8ff30'/><rect x='401.7' y='353.81' width='5.15' height='24.21' fill='#40e8a8'/><rect x='406.5' y='353.81' width='2.85' height='24.21' fill='#d8ff30'/><rect x='419.3' y='353.81' width='7.65' height='24.21' fill='#f0ff10'/><rect x='426.6' y='353.81' width='1.95' height='24.21' fill='#d8ff30'/><rect x='440.2' y='353.81' width='5.15' height='24.21' fill='#90f040'/><rect x='445' y='353.81' width='3.65' height='24.21' fill='#e8ff20'/><rect x='448.3' y='353.81' width='1.45' height='24.21' fill='#b0f040'/><rect x='451.5' y='353.81' width='1.95' height='24.21' fill='#30d870'/><rect x='466.7' y='353.81' width='3.65' height='24.21' fill='#f0ff10'/><rect x='481.2' y='353.81' width='1.95' height='24.21' fill='#b0f040'/><rect x='509.3' y='353.81' width='3.75' height='24.21' fill='#d8ff30'/><rect x='522.3' y='353.81' width='1.75' height='24.21' fill='#30d870'/><rect x='259.2' y='377.72' width='1.95' height='24.21' fill='#60e050'/><rect x='279.1' y='377.72' width='1.95' height='24.21' fill='#50e050'/><rect x='331' y='377.72' width='1.35' height='24.21' fill='#b0f040'/><rect x='336' y='377.72' width='1.85' height='24.21' fill='#d8ff30'/><rect x='371' y='377.72' width='2.65' height='24.21' fill='#b0f040'/><rect x='381.3' y='377.72' width='2.65' height='24.21' fill='#b0f040'/><rect x='400.7' y='377.72' width='2.65' height='24.21' fill='#b0f040'/><rect x='415.5' y='377.72' width='6.15' height='24.21' fill='#a0f040'/><rect x='421.3' y='377.72' width='2.55' height='24.21' fill='#d0ff30'/><rect x='423.5' y='377.72' width='4.95' height='24.21' fill='#a0f040'/><rect x='433.8' y='377.72' width='2.65' height='24.21' fill='#b0f040'/><rect x='439.5' y='377.72' width='3.85' height='24.21' fill='#d0ff30'/><rect x='447.5' y='377.72' width='3.85' height='24.21' fill='#30e080'/><rect x='451' y='377.72' width='2.55' height='24.21' fill='#a0f8e0'/><rect x='453.2' y='377.72' width='2.65' height='24.21' fill='#20e080'/><rect x='461.2' y='377.72' width='3.85' height='24.21' fill='#d0ff30'/><rect x='472.7' y='377.72' width='2.15' height='24.21' fill='#b0f040'/><rect x='476' y='377.72' width='1.85' height='24.21' fill='#b0f040'/><rect x='155.8' y='401.63' width='1.55' height='24.21' fill='#90f040'/><rect x='230' y='401.63' width='1.35' height='24.21' fill='#a0f040'/><rect x='231' y='401.63' width='3.35' height='24.21' fill='#70e850'/><rect x='234' y='401.63' width='2.35' height='24.21' fill='#40e060'/><rect x='236' y='401.63' width='2.35' height='24.21' fill='#70e850'/><rect x='238' y='401.63' width='2.65' height='24.21' fill='#40e060'/><rect x='264.3' y='401.63' width='3.75' height='24.21' fill='#30e070'/><rect x='267.7' y='401.63' width='3.75' height='24.21' fill='#b0fff0'/><rect x='287.1' y='401.63' width='1.95' height='24.21' fill='#40e060'/><rect x='325.5' y='401.63' width='3.05' height='24.21' fill='#40e060'/><rect x='540.4' y='401.63' width='1.75' height='24.21' fill='#60e050'/><rect x='547' y='401.63' width='2.65' height='24.21' fill='#d0ff30'/><rect x='205' y='425.54' width='1.45' height='24.21' fill='#b0f040'/><rect x='249.4' y='425.54' width='1.45' height='24.21' fill='#e0ff20'/><rect x='257.4' y='425.54' width='1.55' height='24.21' fill='#e0ff20'/><rect x='290.6' y='425.54' width='2.55' height='24.21' fill='#c0f040'/><rect x='303' y='425.54' width='1.35' height='24.21' fill='#e0ff20'/><rect x='320.3' y='425.54' width='2.65' height='24.21' fill='#d8ff30'/><rect x='328.3' y='425.54' width='9.45' height='24.21' fill='#ecff1a'/><rect x='339.7' y='425.54' width='9.45' height='24.21' fill='#ecff1a'/><rect x='360.7' y='425.54' width='3.75' height='24.21' fill='#e0ff20'/><rect x='368.7' y='425.54' width='2.65' height='24.21' fill='#e0ff20'/><rect x='380.1' y='425.54' width='3.85' height='24.21' fill='#e0ff20'/><rect x='389.3' y='425.54' width='6.05' height='24.21' fill='#e0ff20'/><rect x='400.7' y='425.54' width='2.65' height='24.21' fill='#b0f040'/><rect x='407.5' y='425.54' width='7.25' height='24.21' fill='#b0f040'/><rect x='416.7' y='425.54' width='4.95' height='24.21' fill='#d8ff30'/><rect x='430.4' y='425.54' width='3.75' height='24.21' fill='#d8ff30'/><rect x='439.5' y='425.54' width='7.25' height='24.21' fill='#d8ff30'/><rect x='462.4' y='425.54' width='11.75' height='24.21' fill='#b0f040'/><rect x='478.4' y='425.54' width='2.65' height='24.21' fill='#d8ff30'/><rect x='481' y='425.54' width='2.35' height='24.21' fill='#b0f040'/><rect x='511.6' y='425.54' width='3.75' height='24.21' fill='#e0ff20'/><rect x='517' y='425.54' width='6.35' height='24.21' fill='#ecff1a'/><rect x='205' y='449.45' width='1.35' height='24.21' fill='#e0ff20'/><rect x='279' y='449.45' width='1.85' height='24.21' fill='#40e060'/><rect x='287.7' y='449.45' width='1.85' height='24.21' fill='#b0f040'/><rect x='362.6' y='449.45' width='2.55' height='24.21' fill='#e0ff20'/><rect x='368' y='449.45' width='1.35' height='24.21' fill='#e0ff20'/><rect x='395.3' y='449.45' width='3.65' height='24.21' fill='#30e080'/><rect x='401.8' y='449.45' width='4.75' height='24.21' fill='#d8ff30'/><rect x='433.4' y='449.45' width='1.85' height='24.21' fill='#30d880'/><rect x='440' y='449.45' width='6.85' height='24.21' fill='#d8ff30'/><rect x='453.6' y='449.45' width='1.05' height='24.21' fill='#40e080'/><rect x='454.3' y='449.45' width='2.35' height='24.21' fill='#5c3c90'/><rect x='470.4' y='449.45' width='3.65' height='24.21' fill='#d8ff30'/><rect x='482.4' y='449.45' width='2.95' height='24.21' fill='#30e0a0'/><rect x='513' y='449.45' width='2.65' height='24.21' fill='#b0f040'/><rect x='168.9' y='473.36' width='1.45' height='24.21' fill='#e0ff20'/><rect x='284.4' y='473.36' width='1.45' height='24.21' fill='#b0f040'/><rect x='309.5' y='473.36' width='2.55' height='24.21' fill='#b0f040'/><rect x='336.3' y='473.36' width='1.85' height='24.21' fill='#20d880'/><rect x='369.2' y='473.36' width='1.85' height='24.21' fill='#c02030'/><rect x='370.7' y='473.36' width='1.65' height='24.21' fill='#80e860'/><rect x='373.5' y='473.36' width='1.35' height='24.21' fill='#d0ff30'/><rect x='318' y='497.27' width='1.65' height='24.21' fill='#e0ff20'/><rect x='332.4' y='497.27' width='4.65' height='24.21' fill='#e0ff20'/><rect x='345.5' y='497.27' width='2.55' height='24.21' fill='#e0ff20'/><rect x='363.7' y='497.27' width='2.65' height='24.21' fill='#e8ff20'/><rect x='381.1' y='497.27' width='2.55' height='24.21' fill='#e8ff20'/><rect x='392' y='497.27' width='1.95' height='24.21' fill='#e8ff20'/><rect x='397.5' y='497.27' width='2.45' height='24.21' fill='#e8ff20'/><rect x='405.5' y='497.27' width='2.15' height='24.21' fill='#30e080'/><rect x='418.2' y='497.27' width='4.65' height='24.21' fill='#d8ff30'/><rect x='435.6' y='497.27' width='4.75' height='24.21' fill='#b0f040'/><rect x='440' y='497.27' width='2.45' height='24.21' fill='#80e860'/><rect x='443.2' y='497.27' width='5.75' height='24.21' fill='#b0f040'/><rect x='450.9' y='497.27' width='4.65' height='24.21' fill='#d8ff30'/><rect x='479.4' y='497.27' width='4.95' height='24.21' fill='#e8ff20'/><rect x='492' y='497.27' width='4.35' height='24.21' fill='#e8ff20'/><rect x='512' y='497.27' width='2.35' height='24.21' fill='#c0f840'/><rect x='514' y='497.27' width='4.95' height='24.21' fill='#e0ff20'/><rect x='159' y='521.18' width='1.35' height='24.21' fill='#e8ff20'/><rect x='175.4' y='521.18' width='1.45' height='24.21' fill='#e8ff20'/><rect x='182' y='521.18' width='2.45' height='24.21' fill='#60e050'/><rect x='459.5' y='521.18' width='2.55' height='24.21' fill='#e8ff20'/><rect x='537.1' y='521.18' width='2.05' height='24.21' fill='#60e050'/><rect x='197.2' y='545.09' width='2.55' height='24.21' fill='#60e050'/><rect x='253.9' y='545.09' width='2.55' height='24.21' fill='#e8ff20'/><rect x='275.7' y='545.09' width='8.05' height='24.21' fill='#e8ff20'/><rect x='362.6' y='545.09' width='2.55' height='24.21' fill='#30e080'/><rect x='370.2' y='545.09' width='2.55' height='24.21' fill='#e8ff20'/><rect x='378.9' y='545.09' width='2.55' height='24.21' fill='#e8ff20'/><rect x='389.8' y='545.09' width='2.55' height='24.21' fill='#90f040'/><rect x='397.5' y='545.09' width='4.65' height='24.21' fill='#d8ff30'/><rect x='408.4' y='545.09' width='2.45' height='24.21' fill='#30e080'/><rect x='426.9' y='545.09' width='2.45' height='24.21' fill='#e0ff20'/><rect x='435.6' y='545.09' width='2.55' height='24.21' fill='#b0f040'/><rect x='448.6' y='545.09' width='4.75' height='24.21' fill='#d8ff30'/><rect x='510' y='545.09' width='4.55' height='24.21' fill='#e0ff20'/></g><rect x='109.2' y='90.75' width='472.6' height='3.45' fill='#1a1a1a'/><rect x='109.2' y='565.5' width='472.6' height='4' fill='#1a1a1a'/><rect x='109.2' y='90.75' width='3.7' height='479' fill='#1a1a1a'/><rect x='578.25' y='90.75' width='3.55' height='479' fill='#1a1a1a'/><text x='60.3' y='107.66' font-size='13.3' textLength='41.6' lengthAdjust='spacingAndGlyphs'><tspan font-style='italic'>L. iners</tspan></text><text x='28.2' y='131.56' font-size='13.3' textLength='73.7' lengthAdjust='spacingAndGlyphs'><tspan font-style='italic'>Gardnerella</tspan> 1</text><text x='28.2' y='155.47' font-size='13.3' textLength='73.7' lengthAdjust='spacingAndGlyphs'><tspan font-style='italic'>Gardnerella</tspan> 2</text><text x='5.9' y='179.39' font-size='13.3' textLength='96' lengthAdjust='spacingAndGlyphs'><tspan font-style='italic'>Gardnerella</tspan> other</text><text x='37.4' y='203.29' font-size='13.3' textLength='64.5' lengthAdjust='spacingAndGlyphs'><tspan font-style='italic'>L. crispatus</tspan></text><text x='20.1' y='227.21' font-size='13.3' textLength='81.8' lengthAdjust='spacingAndGlyphs'><tspan font-style='italic'>Ca. L. vaginae</tspan></text><text x='43' y='251.11' font-size='13.3' textLength='58.9' lengthAdjust='spacingAndGlyphs'><tspan font-style='italic'>A. vaginae</tspan></text><text x='60.8' y='275.02' font-size='13.3' textLength='41.1' lengthAdjust='spacingAndGlyphs'><tspan font-style='italic'>P. bivia</tspan></text><text x='42.5' y='298.94' font-size='13.3' textLength='59.4' lengthAdjust='spacingAndGlyphs'><tspan font-style='italic'>P. buccalis</tspan></text><text x='27.7' y='322.84' font-size='13.3' textLength='74.2' lengthAdjust='spacingAndGlyphs'><tspan font-style='italic'>P. timonensis</tspan></text><text x='56.3' y='346.75' font-size='13.3' textLength='45.6' lengthAdjust='spacingAndGlyphs'><tspan font-style='italic'>P. amnii</tspan></text><text x='46.5' y='370.66' font-size='13.3' textLength='55.4' lengthAdjust='spacingAndGlyphs'><tspan font-style='italic'>Prevotella</tspan></text><text x='35.9' y='394.57' font-size='13.3' textLength='66' lengthAdjust='spacingAndGlyphs'><tspan font-style='italic'>M. mullieris</tspan></text><text x='45.8' y='418.49' font-size='13.3' textLength='56.1' lengthAdjust='spacingAndGlyphs'><tspan font-style='italic'>L. jensenii</tspan></text><text x='35.5' y='442.39' font-size='13.3' textLength='66.4' lengthAdjust='spacingAndGlyphs'><tspan font-style='italic'>Megaspaera</tspan></text><text x='44.4' y='466.31' font-size='13.3' textLength='57.5' lengthAdjust='spacingAndGlyphs'><tspan font-style='italic'>P. uenonis</tspan></text><text x='49.4' y='490.21' font-size='13.3' textLength='52.5' lengthAdjust='spacingAndGlyphs'><tspan font-style='italic'>L. gasseri</tspan></text><text x='33.5' y='514.12' font-size='13.3' textLength='68.4' lengthAdjust='spacingAndGlyphs'><tspan font-style='italic'>M. indolicus</tspan></text><text x='0.2' y='538.03' font-size='13.3' textLength='101.7' lengthAdjust='spacingAndGlyphs'><tspan font-style='italic'>Propionibacterium</tspan></text><text x='49.8' y='561.94' font-size='13.3' textLength='52.1' lengthAdjust='spacingAndGlyphs'><tspan font-style='italic'>P. disiens</tspan></text><text x='614.5' y='48.7' font-size='10.8'>HIV</text><rect x='597' y='55.1' width='20' height='9.9' fill='#ff0000'/><path d='M618.5 57.3H623.2' stroke='#111' stroke-width='1.05'/><text x='626.5' y='61' font-size='10.7' textLength='58.6' lengthAdjust='spacingAndGlyphs'>Positive, VL +</text><rect x='597' y='64.8' width='20' height='10' fill='#ffb6b9'/><path d='M618.5 67.7H623.2' stroke='#111' stroke-width='1.05'/><text x='626.5' y='71.2' font-size='10.7' textLength='54.8' lengthAdjust='spacingAndGlyphs'>Positive, VL -</text><rect x='597' y='74.6' width='20' height='9.5' fill='#555555'/><path d='M618.5 78H623.2' stroke='#111' stroke-width='1.05'/><text x='626.5' y='81.4' font-size='10.7' textLength='34.9' lengthAdjust='spacingAndGlyphs'>Negative</text><text x='609.5' y='109' font-size='11'>sPTB</text><rect x='597' y='115.8' width='20' height='9.5' fill='#0080ff'/><path d='M618.5 118.2H623.2' stroke='#111' stroke-width='1.05'/><text x='626.3' y='121.7' font-size='10.7' textLength='56.5' lengthAdjust='spacingAndGlyphs'>Early Preterm</text><rect x='597' y='125.1' width='20' height='9.9' fill='#b8dcff'/><path d='M618.5 128.2H623.2' stroke='#111' stroke-width='1.05'/><text x='626.3' y='131.8' font-size='10.7' textLength='32.8' lengthAdjust='spacingAndGlyphs'>Preterm</text><rect x='597' y='134.8' width='20' height='10.1' fill='#8a8a8a'/><path d='M618.5 138.1H623.2' stroke='#111' stroke-width='1.05'/><text x='626.3' y='141.8' font-size='10.7' textLength='21' lengthAdjust='spacingAndGlyphs'>Term</text><defs><linearGradient id='cb' x1='0' y1='1' x2='0' y2='0'><stop offset='0.0' stop-color='#f2ff00'/><stop offset='0.1' stop-color='#80f040'/><stop offset='0.2' stop-color='#00e676'/><stop offset='0.3' stop-color='#70f5c8'/><stop offset='0.4' stop-color='#b0ffff'/><stop offset='0.5' stop-color='#6cb4d8'/><stop offset='0.6' stop-color='#1c4f8c'/><stop offset='0.7' stop-color='#6a3090'/><stop offset='0.8' stop-color='#ff1493'/><stop offset='0.9' stop-color='#d81c58'/><stop offset='1.0' stop-color='#b22234'/></linearGradient></defs><rect x='597' y='175.9' width='20.5' height='180.5' fill='url(#cb)'/><path d='M618.2 356.4H623' stroke='#111' stroke-width='1.05'/><text x='625.6' y='360.3' font-size='10.6' style="font-family:'Liberation Serif',serif">0.0</text><path d='M618.2 320.3H623' stroke='#111' stroke-width='1.05'/><text x='625.6' y='324.2' font-size='10.6' style="font-family:'Liberation Serif',serif">0.2</text><path d='M618.2 284.2H623' stroke='#111' stroke-width='1.05'/><text x='625.6' y='288.1' font-size='10.6' style="font-family:'Liberation Serif',serif">0.4</text><path d='M618.2 248.1H623' stroke='#111' stroke-width='1.05'/><text x='625.6' y='252' font-size='10.6' style="font-family:'Liberation Serif',serif">0.6</text><path d='M618.2 212H623' stroke='#111' stroke-width='1.05'/><text x='625.6' y='215.9' font-size='10.6' style="font-family:'Liberation Serif',serif">0.8</text><path d='M618.2 175.9H623' stroke='#111' stroke-width='1.05'/><text x='625.6' y='179.8' font-size='10.6' style="font-family:'Liberation Serif',serif">1.0</text><text transform='translate(645.9 214.3) rotate(90)' font-size='13.3' textLength='105.4' lengthAdjust='spacingAndGlyphs'>Relative abundance</text></svg></body></html>
